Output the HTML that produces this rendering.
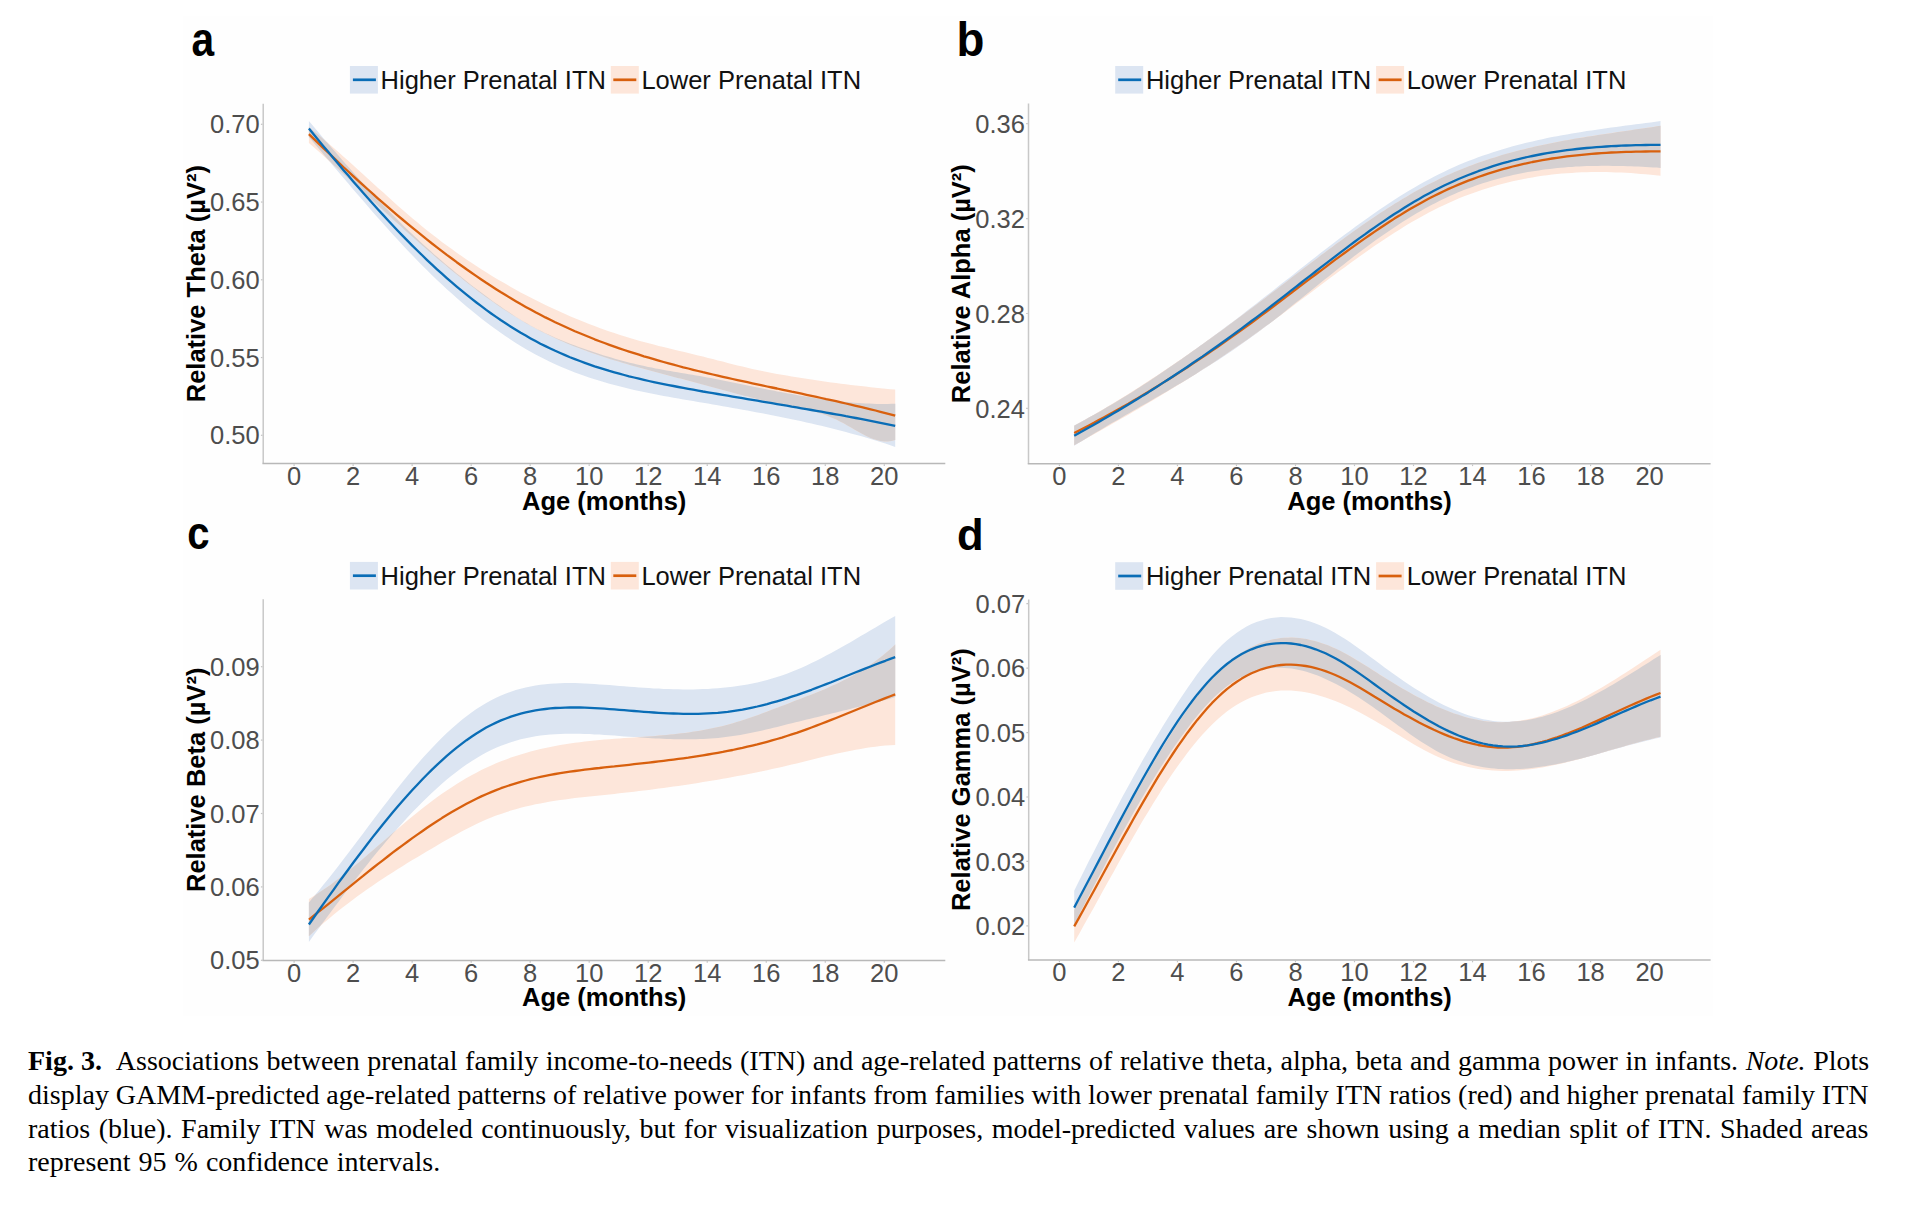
<!DOCTYPE html>
<html><head><meta charset="utf-8"><title>Fig. 3</title>
<style>
html,body{margin:0;padding:0;background:#fff;}
body{width:1918px;height:1220px;position:relative;overflow:hidden;}
svg{position:absolute;left:0;top:0;}
svg text{font-family:"Liberation Sans",sans-serif;}
.rb{fill:#dce5f2;}
.ro{fill:#fde6da;}
.rx{fill:#d5d0d1;}
.lb{fill:none;stroke:#0a6db6;stroke-width:2.3;stroke-linejoin:round;}
.lo{fill:none;stroke:#d8600e;stroke-width:2.3;stroke-linejoin:round;}
.ax{fill:none;stroke:#b8b8b8;stroke-width:1.5;}
.axv{fill:none;stroke:#c8c8c8;stroke-width:1.5;}
.tk{fill:none;stroke:#c4c4c4;stroke-width:1.2;}
.tl{font-size:25.5px;fill:#4d4d4d;}
.at{font-size:25.5px;font-weight:bold;fill:#000;}
.lg{font-size:25.5px;fill:#111;}
.pl{font-size:48px;font-weight:bold;fill:#000;}
.cap{position:absolute;left:28px;width:1840px;white-space:nowrap;font-family:"Liberation Serif",serif;font-size:28px;line-height:28px;color:#000;}
</style></head><body>
<svg width="1918" height="1220" viewBox="0 0 1918 1220">
<rect x="183" y="16" width="1530" height="1000" fill="#fefefe"/>
<path class="rb" d="M308.9,120.9 313.8,126.8 318.7,132.6 323.6,138.4 328.6,144.1 333.5,149.9 338.4,155.5 343.3,161.2 348.3,166.8 353.2,172.3 358.1,177.9 363.1,183.3 368.0,188.7 372.9,194.0 377.8,199.3 382.8,204.5 387.7,209.7 392.6,214.7 397.5,219.7 402.5,224.7 407.4,229.5 412.3,234.3 417.3,239.0 422.2,243.5 427.1,248.1 432.0,252.5 437.0,256.8 441.9,261.1 446.8,265.3 451.8,269.4 456.7,273.4 461.6,277.4 466.5,281.3 471.5,285.1 476.4,288.9 481.3,292.7 486.2,296.3 491.2,299.9 496.1,303.5 501.0,306.9 506.0,310.3 510.9,313.5 515.8,316.7 520.7,319.8 525.7,322.7 530.6,325.5 535.5,328.2 540.4,330.7 545.4,333.1 550.3,335.4 555.2,337.6 560.2,339.7 565.1,341.7 570.0,343.7 574.9,345.5 579.9,347.3 584.8,349.1 589.7,350.8 594.6,352.4 599.6,354.0 604.5,355.6 609.4,357.1 614.4,358.5 619.3,359.9 624.2,361.2 629.1,362.5 634.1,363.7 639.0,364.9 643.9,366.0 648.8,367.0 653.8,368.0 658.7,369.0 663.6,369.9 668.6,370.7 673.5,371.6 678.4,372.4 683.3,373.3 688.3,374.1 693.2,375.0 698.1,375.8 703.0,376.7 708.0,377.6 712.9,378.5 717.8,379.5 722.8,380.4 727.7,381.4 732.6,382.4 737.5,383.4 742.5,384.4 747.4,385.4 752.3,386.4 757.3,387.4 762.2,388.4 767.1,389.4 772.0,390.4 777.0,391.3 781.9,392.3 786.8,393.2 791.7,394.1 796.7,395.0 801.6,395.9 806.5,396.7 811.5,397.5 816.4,398.3 821.3,399.0 826.2,399.7 831.2,400.3 836.1,400.9 841.0,401.5 845.9,402.0 850.9,402.5 855.8,402.9 860.7,403.2 865.7,403.5 870.6,403.7 875.5,403.8 880.4,403.9 885.4,403.9 890.3,403.9 895.2,403.7 L895.2,446.9 890.3,445.2 885.4,443.6 880.4,442.0 875.5,440.5 870.6,439.0 865.7,437.6 860.7,436.1 855.8,434.7 850.9,433.4 845.9,432.1 841.0,430.8 836.1,429.5 831.2,428.2 826.2,427.0 821.3,425.8 816.4,424.7 811.5,423.5 806.5,422.4 801.6,421.3 796.7,420.3 791.7,419.2 786.8,418.2 781.9,417.2 777.0,416.2 772.0,415.2 767.1,414.3 762.2,413.3 757.3,412.4 752.3,411.5 747.4,410.6 742.5,409.7 737.5,408.8 732.6,407.9 727.7,407.0 722.8,406.2 717.8,405.3 712.9,404.5 708.0,403.6 703.0,402.8 698.1,401.9 693.2,401.1 688.3,400.3 683.3,399.4 678.4,398.6 673.5,397.7 668.6,396.8 663.6,395.9 658.7,395.0 653.8,394.0 648.8,393.0 643.9,392.0 639.0,391.0 634.1,389.9 629.1,388.7 624.2,387.6 619.3,386.3 614.4,385.0 609.4,383.7 604.5,382.3 599.6,380.8 594.6,379.3 589.7,377.7 584.8,376.0 579.9,374.3 574.9,372.4 570.0,370.5 565.1,368.5 560.2,366.4 555.2,364.2 550.3,361.9 545.4,359.5 540.4,357.0 535.5,354.4 530.6,351.7 525.7,348.9 520.7,346.0 515.8,342.9 510.9,339.7 506.0,336.5 501.0,333.1 496.1,329.6 491.2,326.0 486.2,322.3 481.3,318.5 476.4,314.6 471.5,310.6 466.5,306.5 461.6,302.3 456.7,298.0 451.8,293.6 446.8,289.2 441.9,284.6 437.0,279.9 432.0,275.2 427.1,270.3 422.2,265.4 417.3,260.4 412.3,255.3 407.4,250.2 402.5,244.9 397.5,239.6 392.6,234.2 387.7,228.8 382.8,223.3 377.8,217.8 372.9,212.2 368.0,206.5 363.1,200.8 358.1,195.1 353.2,189.4 348.3,183.6 343.3,177.8 338.4,172.0 333.5,166.2 328.6,160.3 323.6,154.5 318.7,148.6 313.8,142.8 308.9,137.0 Z"/>
<path class="ro" d="M308.9,127.1 313.8,131.1 318.7,135.1 323.6,139.3 328.6,143.5 333.5,147.7 338.4,152.1 343.3,156.4 348.3,160.8 353.2,165.3 358.1,169.7 363.1,174.2 368.0,178.7 372.9,183.2 377.8,187.7 382.8,192.1 387.7,196.6 392.6,201.0 397.5,205.4 402.5,209.7 407.4,214.0 412.3,218.2 417.3,222.3 422.2,226.4 427.1,230.4 432.0,234.3 437.0,238.1 441.9,241.9 446.8,245.5 451.8,249.1 456.7,252.7 461.6,256.1 466.5,259.5 471.5,262.8 476.4,266.0 481.3,269.2 486.2,272.3 491.2,275.4 496.1,278.4 501.0,281.3 506.0,284.1 510.9,286.9 515.8,289.7 520.7,292.4 525.7,295.0 530.6,297.5 535.5,300.1 540.4,302.5 545.4,304.9 550.3,307.3 555.2,309.6 560.2,311.8 565.1,314.0 570.0,316.2 574.9,318.3 579.9,320.3 584.8,322.3 589.7,324.2 594.6,326.1 599.6,327.9 604.5,329.7 609.4,331.4 614.4,333.1 619.3,334.7 624.2,336.3 629.1,337.8 634.1,339.2 639.0,340.7 643.9,342.0 648.8,343.3 653.8,344.6 658.7,345.9 663.6,347.1 668.6,348.3 673.5,349.5 678.4,350.7 683.3,351.8 688.3,353.0 693.2,354.2 698.1,355.4 703.0,356.6 708.0,357.9 712.9,359.1 717.8,360.4 722.8,361.6 727.7,362.9 732.6,364.2 737.5,365.4 742.5,366.6 747.4,367.8 752.3,368.9 757.3,370.0 762.2,371.0 767.1,372.0 772.0,373.0 777.0,373.9 781.9,374.7 786.8,375.6 791.7,376.4 796.7,377.3 801.6,378.1 806.5,378.8 811.5,379.6 816.4,380.3 821.3,381.0 826.2,381.7 831.2,382.4 836.1,383.1 841.0,383.7 845.9,384.3 850.9,384.9 855.8,385.5 860.7,386.1 865.7,386.6 870.6,387.2 875.5,387.7 880.4,388.2 885.4,388.7 890.3,389.2 895.2,389.6 L895.2,440.1 890.3,441.3 885.4,441.5 880.4,441.0 875.5,439.8 870.6,438.0 865.7,435.7 860.7,433.1 855.8,430.4 850.9,427.5 845.9,424.6 841.0,421.9 836.1,419.5 831.2,417.3 826.2,415.4 821.3,413.7 816.4,412.2 811.5,410.9 806.5,409.7 801.6,408.5 796.7,407.5 791.7,406.5 786.8,405.5 781.9,404.6 777.0,403.5 772.0,402.5 767.1,401.3 762.2,400.2 757.3,399.0 752.3,397.8 747.4,396.5 742.5,395.3 737.5,394.0 732.6,392.6 727.7,391.3 722.8,390.0 717.8,388.6 712.9,387.3 708.0,385.9 703.0,384.6 698.1,383.3 693.2,382.0 688.3,380.7 683.3,379.4 678.4,378.1 673.5,376.8 668.6,375.5 663.6,374.2 658.7,372.8 653.8,371.5 648.8,370.2 643.9,368.9 639.0,367.5 634.1,366.1 629.1,364.7 624.2,363.3 619.3,361.8 614.4,360.3 609.4,358.8 604.5,357.2 599.6,355.6 594.6,353.9 589.7,352.2 584.8,350.4 579.9,348.5 574.9,346.6 570.0,344.6 565.1,342.6 560.2,340.4 555.2,338.2 550.3,335.9 545.4,333.5 540.4,331.0 535.5,328.4 530.6,325.7 525.7,322.9 520.7,320.0 515.8,317.0 510.9,313.9 506.0,310.8 501.0,307.5 496.1,304.1 491.2,300.7 486.2,297.1 481.3,293.5 476.4,289.8 471.5,286.1 466.5,282.3 461.6,278.4 456.7,274.4 451.8,270.4 446.8,266.4 441.9,262.3 437.0,258.1 432.0,253.9 427.1,249.6 422.2,245.3 417.3,241.0 412.3,236.6 407.4,232.2 402.5,227.8 397.5,223.4 392.6,218.9 387.7,214.4 382.8,209.9 377.8,205.4 372.9,200.9 368.0,196.4 363.1,191.9 358.1,187.4 353.2,182.8 348.3,178.3 343.3,173.8 338.4,169.4 333.5,164.9 328.6,160.4 323.6,156.0 318.7,151.6 313.8,147.3 308.9,142.9 Z"/>
<path class="rx" d="M308.9,127.1 312.5,130.1 316.2,133.1 319.9,136.1 323.6,139.2 327.3,142.7 331.0,146.9 334.7,151.2 338.4,155.5 342.0,159.7 345.7,163.9 349.4,168.1 353.1,172.2 356.8,176.4 360.5,180.5 364.2,184.5 367.9,188.6 371.5,192.6 375.2,196.5 378.9,200.5 382.6,204.4 386.3,208.2 390.0,212.0 393.7,215.8 397.4,219.6 401.1,223.2 404.7,226.9 408.4,230.5 412.1,234.1 415.8,237.6 419.5,241.0 423.2,244.5 426.9,247.8 430.6,251.1 434.2,254.4 437.9,257.6 441.6,260.8 445.3,264.0 449.0,267.1 452.7,270.1 456.4,273.2 460.1,276.1 463.7,279.1 467.4,282.0 471.1,284.9 474.8,287.7 478.5,290.5 482.2,293.3 485.9,296.0 489.6,298.7 493.2,301.4 496.9,304.0 500.6,306.6 504.3,309.2 508.0,311.6 511.7,314.1 515.4,316.4 519.1,318.7 522.7,321.0 526.4,323.1 530.1,325.2 533.8,327.2 537.5,329.2 541.2,331.1 544.9,332.9 548.6,334.6 552.3,336.3 555.9,337.9 559.6,339.5 563.3,341.0 567.0,342.5 570.7,343.9 574.4,345.3 578.1,346.7 581.8,348.0 585.4,349.3 589.1,350.6 592.8,351.8 596.5,353.0 600.2,354.2 603.9,355.4 607.6,356.5 611.3,357.6 614.9,358.7 618.6,359.7 622.3,360.7 626.0,361.7 629.7,362.7 633.4,363.6 637.1,364.5 640.8,365.3 644.4,366.1 648.1,366.9 651.8,367.6 655.5,368.4 659.2,369.1 662.9,369.7 666.6,370.4 670.3,371.0 673.9,371.7 677.6,372.3 681.3,372.9 685.0,373.6 688.7,374.2 692.4,374.8 696.1,375.5 699.8,376.1 703.5,376.8 707.1,377.4 710.8,378.1 714.5,378.8 718.2,379.5 721.9,380.3 725.6,381.0 729.3,381.7 733.0,382.5 736.6,383.2 740.3,383.9 744.0,384.7 747.7,385.4 751.4,386.2 755.1,386.9 758.8,387.7 762.5,388.4 766.1,389.2 769.8,389.9 773.5,390.6 777.2,391.4 780.9,392.1 784.6,392.8 788.3,393.5 792.0,394.1 795.6,394.8 799.3,395.5 803.0,396.1 806.7,396.7 810.4,397.3 814.1,397.9 817.8,398.5 821.5,399.0 825.2,399.5 828.8,400.0 832.5,400.5 836.2,400.9 839.9,401.4 843.6,401.8 847.3,402.1 851.0,402.5 854.7,402.8 858.3,403.0 862.0,403.3 865.7,403.5 869.4,403.6 873.1,403.8 876.8,403.9 880.5,403.9 884.2,403.9 887.8,403.9 891.5,403.8 895.2,403.7 L895.2,440.1 891.5,441.0 887.8,441.4 884.2,441.4 880.5,441.0 876.8,440.1 873.1,438.9 869.4,437.4 865.7,435.7 862.0,433.8 858.3,431.8 854.7,429.7 851.0,427.5 847.3,425.4 843.6,423.3 839.9,421.4 836.2,419.6 832.5,417.9 828.8,416.4 825.2,415.1 821.5,413.8 817.8,412.7 814.1,411.6 810.4,410.6 806.7,409.7 803.0,408.9 799.3,408.1 795.6,407.3 792.0,406.6 788.3,405.8 784.6,405.1 780.9,404.3 777.2,403.6 773.5,402.8 769.8,402.0 766.1,401.1 762.5,400.3 758.8,399.4 755.1,398.5 751.4,397.5 747.7,396.6 744.0,395.7 740.3,394.7 736.6,393.7 733.0,392.7 729.3,391.7 725.6,390.7 721.9,389.7 718.2,388.7 714.5,387.7 710.8,386.7 707.1,385.7 703.5,384.7 699.8,383.7 696.1,382.7 692.4,381.8 688.7,380.8 685.0,379.8 681.3,378.8 677.6,377.9 673.9,376.9 670.3,375.9 666.6,374.9 662.9,374.0 659.2,373.0 655.5,372.0 651.8,371.0 648.1,370.0 644.4,369.0 640.8,368.0 637.1,367.0 633.4,365.9 629.7,364.9 626.0,363.8 622.3,362.7 618.6,361.6 614.9,360.5 611.3,359.4 607.6,358.2 603.9,357.0 600.2,355.8 596.5,354.5 592.8,353.3 589.1,352.0 585.4,350.6 581.8,349.2 578.1,347.8 574.4,346.4 570.7,344.9 567.0,343.4 563.3,341.8 559.6,340.2 555.9,338.5 552.3,336.8 548.6,335.1 544.9,333.3 541.2,331.4 537.5,329.5 533.8,327.5 530.1,325.5 526.4,323.4 522.7,321.2 519.1,319.0 515.4,316.8 511.7,314.5 508.0,312.1 504.3,309.7 500.6,307.2 496.9,304.7 493.2,302.1 489.6,299.5 485.9,296.9 482.2,294.2 478.5,291.4 474.8,288.6 471.1,285.8 467.4,283.0 463.7,280.1 460.1,277.1 456.4,274.2 452.7,271.2 449.0,268.2 445.3,265.1 441.6,262.0 437.9,258.9 434.2,255.8 430.6,252.6 426.9,249.4 423.2,246.2 419.5,243.0 415.8,239.7 412.1,236.4 408.4,233.2 404.7,229.9 401.1,226.5 397.4,223.2 393.7,219.9 390.0,216.5 386.3,213.2 382.6,209.8 378.9,206.4 375.2,203.0 371.5,199.7 367.9,196.3 364.2,192.9 360.5,189.5 356.8,186.1 353.1,182.8 349.4,179.4 345.7,176.0 342.0,172.7 338.4,169.3 334.7,166.0 331.0,162.6 327.3,158.8 323.6,154.5 319.9,150.1 316.2,145.7 312.5,141.3 308.9,137.0 Z"/>
<polyline class="lo" points="308.9,134.1 313.8,138.9 318.7,143.6 323.6,148.4 328.6,153.0 333.5,157.7 338.4,162.3 343.3,167.0 348.3,171.5 353.2,176.1 358.1,180.6 363.1,185.1 368.0,189.5 372.9,193.9 377.8,198.3 382.8,202.6 387.7,206.9 392.6,211.1 397.5,215.3 402.5,219.5 407.4,223.6 412.3,227.7 417.3,231.7 422.2,235.7 427.1,239.6 432.0,243.5 437.0,247.3 441.9,251.1 446.8,254.9 451.8,258.5 456.7,262.2 461.6,265.7 466.5,269.3 471.5,272.7 476.4,276.1 481.3,279.5 486.2,282.8 491.2,286.0 496.1,289.2 501.0,292.3 506.0,295.3 510.9,298.3 515.8,301.2 520.7,304.1 525.7,306.9 530.6,309.6 535.5,312.3 540.4,314.8 545.4,317.4 550.3,319.8 555.2,322.2 560.2,324.5 565.1,326.8 570.0,329.0 574.9,331.2 579.9,333.3 584.8,335.3 589.7,337.3 594.6,339.3 599.6,341.2 604.5,343.0 609.4,344.8 614.4,346.6 619.3,348.3 624.2,350.0 629.1,351.6 634.1,353.2 639.0,354.7 643.9,356.3 648.8,357.7 653.8,359.2 658.7,360.6 663.6,362.0 668.6,363.4 673.5,364.7 678.4,366.0 683.3,367.3 688.3,368.5 693.2,369.8 698.1,371.0 703.0,372.2 708.0,373.3 712.9,374.5 717.8,375.6 722.8,376.8 727.7,377.9 732.6,379.0 737.5,380.1 742.5,381.2 747.4,382.2 752.3,383.3 757.3,384.4 762.2,385.4 767.1,386.5 772.0,387.5 777.0,388.5 781.9,389.6 786.8,390.6 791.7,391.7 796.7,392.7 801.6,393.7 806.5,394.8 811.5,395.9 816.4,396.9 821.3,398.0 826.2,399.1 831.2,400.1 836.1,401.2 841.0,402.4 845.9,403.5 850.9,404.6 855.8,405.8 860.7,406.9 865.7,408.1 870.6,409.3 875.5,410.5 880.4,411.8 885.4,413.1 890.3,414.3 895.2,415.7"/>
<polyline class="lb" points="308.9,128.5 313.8,134.5 318.7,140.4 323.6,146.4 328.6,152.3 333.5,158.2 338.4,164.1 343.3,169.9 348.3,175.6 353.2,181.4 358.1,187.1 363.1,192.7 368.0,198.3 372.9,203.8 377.8,209.2 382.8,214.6 387.7,220.0 392.6,225.3 397.5,230.5 402.5,235.6 407.4,240.6 412.3,245.6 417.3,250.5 422.2,255.3 427.1,260.1 432.0,264.7 437.0,269.3 441.9,273.7 446.8,278.1 451.8,282.4 456.7,286.6 461.6,290.7 466.5,294.7 471.5,298.7 476.4,302.5 481.3,306.2 486.2,309.9 491.2,313.5 496.1,316.9 501.0,320.3 506.0,323.5 510.9,326.7 515.8,329.8 520.7,332.8 525.7,335.6 530.6,338.4 535.5,341.1 540.4,343.7 545.4,346.1 550.3,348.5 555.2,350.8 560.2,353.0 565.1,355.1 570.0,357.2 574.9,359.1 579.9,361.0 584.8,362.8 589.7,364.6 594.6,366.3 599.6,367.9 604.5,369.4 609.4,370.9 614.4,372.3 619.3,373.7 624.2,375.0 629.1,376.3 634.1,377.5 639.0,378.7 643.9,379.9 648.8,381.0 653.8,382.1 658.7,383.1 663.6,384.1 668.6,385.1 673.5,386.0 678.4,387.0 683.3,387.9 688.3,388.8 693.2,389.7 698.1,390.6 703.0,391.5 708.0,392.3 712.9,393.2 717.8,394.0 722.8,394.9 727.7,395.7 732.6,396.6 737.5,397.4 742.5,398.2 747.4,399.1 752.3,399.9 757.3,400.7 762.2,401.6 767.1,402.4 772.0,403.2 777.0,404.1 781.9,404.9 786.8,405.7 791.7,406.6 796.7,407.4 801.6,408.3 806.5,409.1 811.5,410.0 816.4,410.8 821.3,411.7 826.2,412.6 831.2,413.5 836.1,414.3 841.0,415.2 845.9,416.2 850.9,417.1 855.8,418.0 860.7,418.9 865.7,419.9 870.6,420.8 875.5,421.8 880.4,422.8 885.4,423.8 890.3,424.8 895.2,425.8"/>
<path class="axv" d="M263.2,103.8 V463.6"/>
<path class="ax" d="M262.45,463.6 H945.3"/>
<path class="tk" d="M294.10,464.30 v1.6"/>
<text class="tl" x="294.10" y="484.9" text-anchor="middle">0</text>
<path class="tk" d="M353.12,464.30 v1.6"/>
<text class="tl" x="353.12" y="484.9" text-anchor="middle">2</text>
<path class="tk" d="M412.14,464.30 v1.6"/>
<text class="tl" x="412.14" y="484.9" text-anchor="middle">4</text>
<path class="tk" d="M471.16,464.30 v1.6"/>
<text class="tl" x="471.16" y="484.9" text-anchor="middle">6</text>
<path class="tk" d="M530.18,464.30 v1.6"/>
<text class="tl" x="530.18" y="484.9" text-anchor="middle">8</text>
<path class="tk" d="M589.20,464.30 v1.6"/>
<text class="tl" x="589.20" y="484.9" text-anchor="middle">10</text>
<path class="tk" d="M648.22,464.30 v1.6"/>
<text class="tl" x="648.22" y="484.9" text-anchor="middle">12</text>
<path class="tk" d="M707.24,464.30 v1.6"/>
<text class="tl" x="707.24" y="484.9" text-anchor="middle">14</text>
<path class="tk" d="M766.26,464.30 v1.6"/>
<text class="tl" x="766.26" y="484.9" text-anchor="middle">16</text>
<path class="tk" d="M825.28,464.30 v1.6"/>
<text class="tl" x="825.28" y="484.9" text-anchor="middle">18</text>
<path class="tk" d="M884.30,464.30 v1.6"/>
<text class="tl" x="884.30" y="484.9" text-anchor="middle">20</text>
<path class="tk" d="M262.50,435.30 h-1.6"/>
<text class="tl" x="259.60" y="444.40" text-anchor="end">0.50</text>
<path class="tk" d="M262.50,357.55 h-1.6"/>
<text class="tl" x="259.60" y="366.65" text-anchor="end">0.55</text>
<path class="tk" d="M262.50,279.80 h-1.6"/>
<text class="tl" x="259.60" y="288.90" text-anchor="end">0.60</text>
<path class="tk" d="M262.50,202.05 h-1.6"/>
<text class="tl" x="259.60" y="211.15" text-anchor="end">0.65</text>
<path class="tk" d="M262.50,124.30 h-1.6"/>
<text class="tl" x="259.60" y="133.40" text-anchor="end">0.70</text>
<text class="at" x="604.2" y="509.5" text-anchor="middle">Age (months)</text>
<text class="at" transform="translate(204.5,283.7) rotate(-90)" text-anchor="middle">Relative Theta (µV²)</text>
<text class="pl" transform="translate(191.6,56.3) scale(0.84,1)" style="font-size:48.5px">a</text>
<rect x="349.9" y="66.0" width="28" height="27.6" fill="#dce5f2"/>
<path d="M352.9,79.8 h23" stroke="#0a6db6" stroke-width="2.7"/>
<text class="lg" x="380.6" y="88.9">Higher Prenatal ITN</text>
<rect x="610.8" y="66.0" width="28" height="27.6" fill="#fde6da"/>
<path d="M613.3,79.8 h23" stroke="#d8600e" stroke-width="2.7"/>
<text class="lg" x="641.4" y="88.9">Lower Prenatal ITN</text>
<path class="rb" d="M1074.2,425.6 1079.1,423.0 1084.0,420.3 1088.9,417.6 1093.9,414.9 1098.8,412.1 1103.7,409.2 1108.6,406.3 1113.6,403.4 1118.5,400.4 1123.4,397.4 1128.4,394.4 1133.3,391.3 1138.2,388.2 1143.1,385.0 1148.1,381.8 1153.0,378.5 1157.9,375.3 1162.8,372.0 1167.8,368.6 1172.7,365.2 1177.6,361.8 1182.6,358.4 1187.5,354.9 1192.4,351.4 1197.3,347.9 1202.3,344.3 1207.2,340.7 1212.1,337.1 1217.1,333.5 1222.0,329.8 1226.9,326.1 1231.8,322.4 1236.8,318.7 1241.7,314.9 1246.6,311.1 1251.5,307.3 1256.5,303.5 1261.4,299.6 1266.3,295.8 1271.3,291.9 1276.2,288.0 1281.1,284.1 1286.0,280.3 1291.0,276.4 1295.9,272.5 1300.8,268.6 1305.7,264.7 1310.7,260.8 1315.6,257.0 1320.5,253.1 1325.5,249.3 1330.4,245.5 1335.3,241.8 1340.2,238.0 1345.2,234.3 1350.1,230.7 1355.0,227.0 1359.9,223.5 1364.9,219.9 1369.8,216.4 1374.7,213.0 1379.7,209.6 1384.6,206.3 1389.5,203.0 1394.4,199.8 1399.4,196.6 1404.3,193.6 1409.2,190.6 1414.1,187.7 1419.1,184.8 1424.0,182.0 1428.9,179.4 1433.9,176.8 1438.8,174.3 1443.7,171.9 1448.6,169.5 1453.6,167.3 1458.5,165.1 1463.4,163.1 1468.3,161.1 1473.3,159.2 1478.2,157.3 1483.1,155.6 1488.1,153.9 1493.0,152.2 1497.9,150.7 1502.8,149.2 1507.8,147.7 1512.7,146.3 1517.6,145.0 1522.6,143.7 1527.5,142.5 1532.4,141.4 1537.3,140.2 1542.3,139.2 1547.2,138.1 1552.1,137.1 1557.0,136.2 1562.0,135.3 1566.9,134.4 1571.8,133.5 1576.8,132.7 1581.7,131.9 1586.6,131.1 1591.5,130.4 1596.5,129.7 1601.4,129.0 1606.3,128.3 1611.2,127.6 1616.2,126.9 1621.1,126.3 1626.0,125.6 1631.0,125.0 1635.9,124.3 1640.8,123.7 1645.7,123.0 1650.7,122.4 1655.6,121.7 1660.5,121.0 L1660.5,167.9 1655.6,167.6 1650.7,167.2 1645.7,167.0 1640.8,166.7 1635.9,166.5 1631.0,166.3 1626.0,166.1 1621.1,166.0 1616.2,165.9 1611.2,165.8 1606.3,165.8 1601.4,165.8 1596.5,165.9 1591.5,166.0 1586.6,166.1 1581.7,166.3 1576.8,166.6 1571.8,166.9 1566.9,167.2 1562.0,167.6 1557.0,168.1 1552.1,168.6 1547.2,169.2 1542.3,169.9 1537.3,170.6 1532.4,171.3 1527.5,172.2 1522.6,173.1 1517.6,174.1 1512.7,175.2 1507.8,176.3 1502.8,177.5 1497.9,178.8 1493.0,180.2 1488.1,181.7 1483.1,183.2 1478.2,184.8 1473.3,186.6 1468.3,188.4 1463.4,190.3 1458.5,192.3 1453.6,194.4 1448.6,196.6 1443.7,198.9 1438.8,201.3 1433.9,203.8 1428.9,206.4 1424.0,209.1 1419.1,211.9 1414.1,214.8 1409.2,217.8 1404.3,220.9 1399.4,224.0 1394.4,227.3 1389.5,230.6 1384.6,234.0 1379.7,237.4 1374.7,240.9 1369.8,244.5 1364.9,248.2 1359.9,251.9 1355.0,255.6 1350.1,259.4 1345.2,263.2 1340.2,267.1 1335.3,271.0 1330.4,274.9 1325.5,278.9 1320.5,282.9 1315.6,286.8 1310.7,290.8 1305.7,294.8 1300.8,298.8 1295.9,302.8 1291.0,306.7 1286.0,310.7 1281.1,314.6 1276.2,318.4 1271.3,322.3 1266.3,326.1 1261.4,329.8 1256.5,333.5 1251.5,337.1 1246.6,340.6 1241.7,344.1 1236.8,347.5 1231.8,350.9 1226.9,354.2 1222.0,357.5 1217.1,360.7 1212.1,363.8 1207.2,367.0 1202.3,370.1 1197.3,373.1 1192.4,376.1 1187.5,379.1 1182.6,382.1 1177.6,385.0 1172.7,387.9 1167.8,390.8 1162.8,393.7 1157.9,396.6 1153.0,399.4 1148.1,402.3 1143.1,405.1 1138.2,407.9 1133.3,410.8 1128.4,413.6 1123.4,416.5 1118.5,419.3 1113.6,422.2 1108.6,425.0 1103.7,427.9 1098.8,430.8 1093.9,433.8 1088.9,436.7 1084.0,439.7 1079.1,442.7 1074.2,445.8 Z"/>
<path class="ro" d="M1074.2,425.8 1079.1,423.1 1084.0,420.3 1088.9,417.5 1093.9,414.7 1098.8,411.8 1103.7,408.9 1108.6,406.0 1113.6,403.0 1118.5,400.0 1123.4,397.0 1128.4,393.9 1133.3,390.8 1138.2,387.7 1143.1,384.5 1148.1,381.3 1153.0,378.1 1157.9,374.9 1162.8,371.6 1167.8,368.3 1172.7,364.9 1177.6,361.6 1182.6,358.2 1187.5,354.8 1192.4,351.3 1197.3,347.9 1202.3,344.4 1207.2,340.8 1212.1,337.3 1217.1,333.8 1222.0,330.2 1226.9,326.6 1231.8,322.9 1236.8,319.3 1241.7,315.6 1246.6,312.0 1251.5,308.3 1256.5,304.5 1261.4,300.8 1266.3,297.0 1271.3,293.3 1276.2,289.5 1281.1,285.7 1286.0,282.0 1291.0,278.2 1295.9,274.4 1300.8,270.6 1305.7,266.9 1310.7,263.1 1315.6,259.4 1320.5,255.7 1325.5,252.0 1330.4,248.3 1335.3,244.6 1340.2,241.0 1345.2,237.4 1350.1,233.9 1355.0,230.4 1359.9,226.9 1364.9,223.5 1369.8,220.1 1374.7,216.8 1379.7,213.5 1384.6,210.3 1389.5,207.1 1394.4,204.0 1399.4,200.9 1404.3,198.0 1409.2,195.1 1414.1,192.2 1419.1,189.5 1424.0,186.8 1428.9,184.2 1433.9,181.7 1438.8,179.3 1443.7,176.9 1448.6,174.7 1453.6,172.5 1458.5,170.4 1463.4,168.4 1468.3,166.5 1473.3,164.6 1478.2,162.8 1483.1,161.1 1488.1,159.5 1493.0,157.9 1497.9,156.3 1502.8,154.9 1507.8,153.5 1512.7,152.1 1517.6,150.8 1522.6,149.5 1527.5,148.3 1532.4,147.2 1537.3,146.1 1542.3,145.0 1547.2,144.0 1552.1,143.0 1557.0,142.0 1562.0,141.1 1566.9,140.2 1571.8,139.3 1576.8,138.5 1581.7,137.6 1586.6,136.8 1591.5,136.1 1596.5,135.3 1601.4,134.5 1606.3,133.8 1611.2,133.1 1616.2,132.3 1621.1,131.6 1626.0,130.9 1631.0,130.2 1635.9,129.5 1640.8,128.8 1645.7,128.0 1650.7,127.3 1655.6,126.5 1660.5,125.8 L1660.5,175.8 1655.6,175.3 1650.7,174.8 1645.7,174.3 1640.8,173.9 1635.9,173.5 1631.0,173.1 1626.0,172.8 1621.1,172.6 1616.2,172.4 1611.2,172.2 1606.3,172.1 1601.4,172.0 1596.5,172.0 1591.5,172.1 1586.6,172.2 1581.7,172.3 1576.8,172.6 1571.8,172.9 1566.9,173.2 1562.0,173.6 1557.0,174.1 1552.1,174.6 1547.2,175.2 1542.3,175.8 1537.3,176.6 1532.4,177.4 1527.5,178.3 1522.6,179.2 1517.6,180.2 1512.7,181.3 1507.8,182.5 1502.8,183.7 1497.9,185.0 1493.0,186.5 1488.1,187.9 1483.1,189.5 1478.2,191.2 1473.3,192.9 1468.3,194.7 1463.4,196.6 1458.5,198.6 1453.6,200.7 1448.6,202.9 1443.7,205.2 1438.8,207.5 1433.9,210.0 1428.9,212.5 1424.0,215.2 1419.1,217.9 1414.1,220.7 1409.2,223.6 1404.3,226.6 1399.4,229.7 1394.4,232.8 1389.5,235.9 1384.6,239.2 1379.7,242.5 1374.7,245.8 1369.8,249.2 1364.9,252.7 1359.9,256.2 1355.0,259.7 1350.1,263.3 1345.2,266.9 1340.2,270.5 1335.3,274.2 1330.4,277.8 1325.5,281.5 1320.5,285.2 1315.6,288.9 1310.7,292.7 1305.7,296.4 1300.8,300.1 1295.9,303.8 1291.0,307.5 1286.0,311.2 1281.1,314.9 1276.2,318.6 1271.3,322.2 1266.3,325.8 1261.4,329.4 1256.5,333.0 1251.5,336.5 1246.6,340.0 1241.7,343.4 1236.8,346.8 1231.8,350.2 1226.9,353.5 1222.0,356.8 1217.1,360.1 1212.1,363.4 1207.2,366.6 1202.3,369.8 1197.3,372.9 1192.4,376.0 1187.5,379.2 1182.6,382.2 1177.6,385.3 1172.7,388.3 1167.8,391.3 1162.8,394.3 1157.9,397.3 1153.0,400.2 1148.1,403.1 1143.1,406.0 1138.2,408.9 1133.3,411.8 1128.4,414.7 1123.4,417.5 1118.5,420.3 1113.6,423.1 1108.6,425.9 1103.7,428.7 1098.8,431.5 1093.9,434.3 1088.9,437.0 1084.0,439.8 1079.1,442.5 1074.2,445.3 Z"/>
<path class="rx" d="M1074.2,425.8 1077.8,423.8 1081.5,421.7 1085.2,419.7 1088.9,417.6 1092.6,415.6 1096.3,413.5 1100.0,411.4 1103.7,409.3 1107.3,407.1 1111.0,404.9 1114.7,402.7 1118.4,400.5 1122.1,398.2 1125.8,396.0 1129.5,393.7 1133.2,391.4 1136.8,389.0 1140.5,386.7 1144.2,384.3 1147.9,381.9 1151.6,379.5 1155.3,377.0 1159.0,374.6 1162.7,372.1 1166.4,369.6 1170.0,367.1 1173.7,364.5 1177.4,362.0 1181.1,359.4 1184.8,356.8 1188.5,354.2 1192.2,351.6 1195.9,348.9 1199.5,346.3 1203.2,343.7 1206.9,341.0 1210.6,338.4 1214.3,335.7 1218.0,333.1 1221.7,330.4 1225.4,327.7 1229.0,325.0 1232.7,322.3 1236.4,319.6 1240.1,316.8 1243.8,314.1 1247.5,311.3 1251.2,308.5 1254.9,305.7 1258.5,303.0 1262.2,300.2 1265.9,297.4 1269.6,294.5 1273.3,291.7 1277.0,288.9 1280.7,286.1 1284.4,283.2 1288.0,280.4 1291.7,277.6 1295.4,274.8 1299.1,271.9 1302.8,269.1 1306.5,266.3 1310.2,263.5 1313.9,260.7 1317.6,257.9 1321.2,255.1 1324.9,252.4 1328.6,249.6 1332.3,246.9 1336.0,244.1 1339.7,241.4 1343.4,238.8 1347.1,236.1 1350.7,233.4 1354.4,230.8 1358.1,228.2 1361.8,225.6 1365.5,223.1 1369.2,220.5 1372.9,218.0 1376.6,215.5 1380.2,213.1 1383.9,210.7 1387.6,208.3 1391.3,206.0 1395.0,203.6 1398.7,201.4 1402.4,199.1 1406.1,196.9 1409.7,194.8 1413.4,192.6 1417.1,190.6 1420.8,188.5 1424.5,186.5 1428.2,184.6 1431.9,182.7 1435.6,180.9 1439.2,179.1 1442.9,177.3 1446.6,175.6 1450.3,173.9 1454.0,172.3 1457.7,170.8 1461.4,169.2 1465.1,167.8 1468.8,166.3 1472.4,164.9 1476.1,163.6 1479.8,162.3 1483.5,161.0 1487.2,159.7 1490.9,158.5 1494.6,157.4 1498.3,156.2 1501.9,155.1 1505.6,154.1 1509.3,153.0 1513.0,152.0 1516.7,151.0 1520.4,150.1 1524.1,149.2 1527.8,148.3 1531.4,147.4 1535.1,146.6 1538.8,145.7 1542.5,144.9 1546.2,144.2 1549.9,143.4 1553.6,142.7 1557.3,142.0 1560.9,141.3 1564.6,140.6 1568.3,139.9 1572.0,139.3 1575.7,138.6 1579.4,138.0 1583.1,137.4 1586.8,136.8 1590.5,136.2 1594.1,135.7 1597.8,135.1 1601.5,134.5 1605.2,134.0 1608.9,133.4 1612.6,132.9 1616.3,132.3 1620.0,131.8 1623.6,131.3 1627.3,130.7 1631.0,130.2 1634.7,129.6 1638.4,129.1 1642.1,128.6 1645.8,128.0 1649.5,127.5 1653.1,126.9 1656.8,126.3 1660.5,125.8 L1660.5,167.9 1656.8,167.6 1653.1,167.4 1649.5,167.2 1645.8,167.0 1642.1,166.8 1638.4,166.6 1634.7,166.4 1631.0,166.3 1627.3,166.2 1623.6,166.1 1620.0,166.0 1616.3,165.9 1612.6,165.9 1608.9,165.8 1605.2,165.8 1601.5,165.8 1597.8,165.9 1594.1,165.9 1590.5,166.0 1586.8,166.1 1583.1,166.3 1579.4,166.4 1575.7,166.6 1572.0,166.9 1568.3,167.1 1564.6,167.4 1560.9,167.7 1557.3,168.1 1553.6,168.5 1549.9,168.9 1546.2,169.3 1542.5,169.8 1538.8,170.4 1535.1,170.9 1531.4,171.5 1527.8,172.1 1524.1,172.8 1520.4,173.5 1516.7,174.3 1513.0,175.1 1509.3,175.9 1505.6,176.8 1501.9,177.8 1498.3,178.7 1494.6,179.7 1490.9,180.8 1487.2,181.9 1483.5,183.1 1479.8,184.3 1476.1,185.6 1472.4,186.9 1468.8,188.2 1465.1,189.6 1461.4,191.1 1457.7,192.6 1454.0,194.2 1450.3,195.8 1446.6,197.5 1442.9,199.3 1439.2,201.1 1435.6,202.9 1431.9,204.8 1428.2,206.8 1424.5,208.8 1420.8,210.9 1417.1,213.1 1413.4,215.2 1409.7,217.5 1406.1,219.8 1402.4,222.1 1398.7,224.5 1395.0,226.9 1391.3,229.4 1387.6,231.9 1383.9,234.4 1380.2,237.0 1376.6,239.6 1372.9,242.3 1369.2,245.0 1365.5,247.7 1361.8,250.5 1358.1,253.3 1354.4,256.1 1350.7,258.9 1347.1,261.8 1343.4,264.7 1339.7,267.6 1336.0,270.5 1332.3,273.4 1328.6,276.4 1324.9,279.3 1321.2,282.3 1317.6,285.3 1313.9,288.2 1310.2,291.2 1306.5,294.2 1302.8,297.2 1299.1,300.2 1295.4,303.1 1291.7,306.1 1288.0,309.1 1284.4,312.0 1280.7,314.9 1277.0,317.8 1273.3,320.7 1269.6,323.4 1265.9,326.1 1262.2,328.8 1258.5,331.5 1254.9,334.1 1251.2,336.8 1247.5,339.4 1243.8,341.9 1240.1,344.5 1236.4,347.1 1232.7,349.6 1229.0,352.1 1225.4,354.6 1221.7,357.0 1218.0,359.5 1214.3,361.9 1210.6,364.4 1206.9,366.8 1203.2,369.1 1199.5,371.5 1195.9,373.9 1192.2,376.2 1188.5,378.5 1184.8,380.7 1181.1,382.9 1177.4,385.1 1173.7,387.3 1170.0,389.5 1166.4,391.7 1162.7,393.8 1159.0,396.0 1155.3,398.1 1151.6,400.2 1147.9,402.4 1144.2,404.5 1140.5,406.6 1136.8,408.7 1133.2,410.8 1129.5,413.0 1125.8,415.1 1122.1,417.2 1118.4,419.4 1114.7,421.5 1111.0,423.6 1107.3,425.8 1103.7,428.0 1100.0,430.2 1096.3,432.3 1092.6,434.5 1088.9,436.8 1085.2,439.0 1081.5,441.2 1077.8,443.2 1074.2,445.3 Z"/>
<polyline class="lo" points="1074.2,432.9 1079.1,430.4 1084.0,427.9 1088.9,425.4 1093.9,422.8 1098.8,420.1 1103.7,417.5 1108.6,414.8 1113.6,412.1 1118.5,409.3 1123.4,406.5 1128.4,403.7 1133.3,400.8 1138.2,397.9 1143.1,395.0 1148.1,392.0 1153.0,389.0 1157.9,386.0 1162.8,382.9 1167.8,379.8 1172.7,376.7 1177.6,373.6 1182.6,370.4 1187.5,367.2 1192.4,363.9 1197.3,360.6 1202.3,357.3 1207.2,354.0 1212.1,350.6 1217.1,347.2 1222.0,343.8 1226.9,340.4 1231.8,336.9 1236.8,333.4 1241.7,329.9 1246.6,326.3 1251.5,322.7 1256.5,319.1 1261.4,315.4 1266.3,311.8 1271.3,308.1 1276.2,304.4 1281.1,300.6 1286.0,296.9 1291.0,293.2 1295.9,289.4 1300.8,285.7 1305.7,281.9 1310.7,278.2 1315.6,274.5 1320.5,270.8 1325.5,267.1 1330.4,263.4 1335.3,259.7 1340.2,256.1 1345.2,252.5 1350.1,248.9 1355.0,245.4 1359.9,241.9 1364.9,238.4 1369.8,235.0 1374.7,231.6 1379.7,228.3 1384.6,225.0 1389.5,221.8 1394.4,218.6 1399.4,215.6 1404.3,212.5 1409.2,209.6 1414.1,206.7 1419.1,203.9 1424.0,201.2 1428.9,198.6 1433.9,196.0 1438.8,193.6 1443.7,191.2 1448.6,188.9 1453.6,186.7 1458.5,184.6 1463.4,182.6 1468.3,180.6 1473.3,178.8 1478.2,177.0 1483.1,175.3 1488.1,173.6 1493.0,172.1 1497.9,170.6 1502.8,169.2 1507.8,167.8 1512.7,166.5 1517.6,165.3 1522.6,164.2 1527.5,163.1 1532.4,162.0 1537.3,161.1 1542.3,160.2 1547.2,159.3 1552.1,158.5 1557.0,157.8 1562.0,157.1 1566.9,156.4 1571.8,155.8 1576.8,155.3 1581.7,154.8 1586.6,154.3 1591.5,153.9 1596.5,153.5 1601.4,153.1 1606.3,152.8 1611.2,152.5 1616.2,152.3 1621.1,152.1 1626.0,151.9 1631.0,151.8 1635.9,151.6 1640.8,151.6 1645.7,151.5 1650.7,151.4 1655.6,151.4 1660.5,151.4"/>
<polyline class="lb" points="1074.2,435.7 1079.1,433.0 1084.0,430.3 1088.9,427.5 1093.9,424.7 1098.8,421.9 1103.7,419.1 1108.6,416.2 1113.6,413.3 1118.5,410.4 1123.4,407.5 1128.4,404.5 1133.3,401.5 1138.2,398.5 1143.1,395.4 1148.1,392.4 1153.0,389.2 1157.9,386.1 1162.8,382.9 1167.8,379.7 1172.7,376.5 1177.6,373.3 1182.6,370.0 1187.5,366.7 1192.4,363.3 1197.3,360.0 1202.3,356.6 1207.2,353.1 1212.1,349.7 1217.1,346.2 1222.0,342.7 1226.9,339.2 1231.8,335.6 1236.8,332.0 1241.7,328.4 1246.6,324.7 1251.5,321.0 1256.5,317.3 1261.4,313.6 1266.3,309.8 1271.3,306.0 1276.2,302.2 1281.1,298.4 1286.0,294.6 1291.0,290.7 1295.9,286.9 1300.8,283.0 1305.7,279.2 1310.7,275.3 1315.6,271.5 1320.5,267.7 1325.5,263.9 1330.4,260.1 1335.3,256.3 1340.2,252.6 1345.2,248.9 1350.1,245.2 1355.0,241.5 1359.9,237.9 1364.9,234.4 1369.8,230.8 1374.7,227.4 1379.7,223.9 1384.6,220.6 1389.5,217.3 1394.4,214.0 1399.4,210.9 1404.3,207.8 1409.2,204.7 1414.1,201.8 1419.1,198.9 1424.0,196.1 1428.9,193.4 1433.9,190.8 1438.8,188.2 1443.7,185.8 1448.6,183.5 1453.6,181.2 1458.5,179.0 1463.4,177.0 1468.3,175.0 1473.3,173.1 1478.2,171.2 1483.1,169.5 1488.1,167.8 1493.0,166.2 1497.9,164.7 1502.8,163.2 1507.8,161.9 1512.7,160.5 1517.6,159.3 1522.6,158.1 1527.5,157.0 1532.4,156.0 1537.3,155.0 1542.3,154.0 1547.2,153.2 1552.1,152.4 1557.0,151.6 1562.0,150.9 1566.9,150.2 1571.8,149.6 1576.8,149.0 1581.7,148.5 1586.6,148.0 1591.5,147.6 1596.5,147.2 1601.4,146.8 1606.3,146.5 1611.2,146.2 1616.2,146.0 1621.1,145.7 1626.0,145.5 1631.0,145.4 1635.9,145.2 1640.8,145.1 1645.7,145.0 1650.7,144.9 1655.6,144.9 1660.5,144.9"/>
<path class="axv" d="M1028.5,103.6 V463.8"/>
<path class="ax" d="M1027.75,463.8 H1710.6"/>
<path class="tk" d="M1059.40,464.50 v1.6"/>
<text class="tl" x="1059.40" y="485.1" text-anchor="middle">0</text>
<path class="tk" d="M1118.42,464.50 v1.6"/>
<text class="tl" x="1118.42" y="485.1" text-anchor="middle">2</text>
<path class="tk" d="M1177.44,464.50 v1.6"/>
<text class="tl" x="1177.44" y="485.1" text-anchor="middle">4</text>
<path class="tk" d="M1236.46,464.50 v1.6"/>
<text class="tl" x="1236.46" y="485.1" text-anchor="middle">6</text>
<path class="tk" d="M1295.48,464.50 v1.6"/>
<text class="tl" x="1295.48" y="485.1" text-anchor="middle">8</text>
<path class="tk" d="M1354.50,464.50 v1.6"/>
<text class="tl" x="1354.50" y="485.1" text-anchor="middle">10</text>
<path class="tk" d="M1413.52,464.50 v1.6"/>
<text class="tl" x="1413.52" y="485.1" text-anchor="middle">12</text>
<path class="tk" d="M1472.54,464.50 v1.6"/>
<text class="tl" x="1472.54" y="485.1" text-anchor="middle">14</text>
<path class="tk" d="M1531.56,464.50 v1.6"/>
<text class="tl" x="1531.56" y="485.1" text-anchor="middle">16</text>
<path class="tk" d="M1590.58,464.50 v1.6"/>
<text class="tl" x="1590.58" y="485.1" text-anchor="middle">18</text>
<path class="tk" d="M1649.60,464.50 v1.6"/>
<text class="tl" x="1649.60" y="485.1" text-anchor="middle">20</text>
<path class="tk" d="M1027.80,408.40 h-1.6"/>
<text class="tl" x="1024.90" y="417.50" text-anchor="end">0.24</text>
<path class="tk" d="M1027.80,313.50 h-1.6"/>
<text class="tl" x="1024.90" y="322.60" text-anchor="end">0.28</text>
<path class="tk" d="M1027.80,218.60 h-1.6"/>
<text class="tl" x="1024.90" y="227.70" text-anchor="end">0.32</text>
<path class="tk" d="M1027.80,123.70 h-1.6"/>
<text class="tl" x="1024.90" y="132.80" text-anchor="end">0.36</text>
<text class="at" x="1369.5" y="509.7" text-anchor="middle">Age (months)</text>
<text class="at" transform="translate(969.8,283.7) rotate(-90)" text-anchor="middle">Relative Alpha (µV²)</text>
<text class="pl" transform="translate(956.5,55.5) scale(0.966,1)" style="font-size:47.3px">b</text>
<rect x="1115.2" y="66.0" width="28" height="27.6" fill="#dce5f2"/>
<path d="M1118.2,79.8 h23" stroke="#0a6db6" stroke-width="2.7"/>
<text class="lg" x="1145.9" y="88.9">Higher Prenatal ITN</text>
<rect x="1376.1" y="66.0" width="28" height="27.6" fill="#fde6da"/>
<path d="M1378.6,79.8 h23" stroke="#d8600e" stroke-width="2.7"/>
<text class="lg" x="1406.7" y="88.9">Lower Prenatal ITN</text>
<path class="rb" d="M308.9,902.4 313.8,896.6 318.7,890.7 323.6,884.6 328.6,878.5 333.5,872.2 338.4,865.9 343.3,859.4 348.3,853.0 353.2,846.5 358.1,839.9 363.1,833.4 368.0,826.8 372.9,820.3 377.8,813.8 382.8,807.3 387.7,800.9 392.6,794.5 397.5,788.3 402.5,782.1 407.4,776.0 412.3,770.1 417.3,764.3 422.2,758.6 427.1,753.2 432.0,747.9 437.0,742.7 441.9,737.8 446.8,733.1 451.8,728.6 456.7,724.2 461.6,720.1 466.5,716.2 471.5,712.6 476.4,709.1 481.3,705.9 486.2,703.0 491.2,700.2 496.1,697.8 501.0,695.5 506.0,693.5 510.9,691.7 515.8,690.1 520.7,688.7 525.7,687.4 530.6,686.4 535.5,685.5 540.4,684.8 545.4,684.2 550.3,683.7 555.2,683.4 560.2,683.2 565.1,683.1 570.0,683.1 574.9,683.1 579.9,683.3 584.8,683.5 589.7,683.7 594.6,684.0 599.6,684.4 604.5,684.8 609.4,685.1 614.4,685.5 619.3,685.9 624.2,686.3 629.1,686.7 634.1,687.1 639.0,687.4 643.9,687.7 648.8,688.1 653.8,688.4 658.7,688.6 663.6,688.9 668.6,689.0 673.5,689.2 678.4,689.3 683.3,689.4 688.3,689.4 693.2,689.4 698.1,689.3 703.0,689.1 708.0,688.9 712.9,688.6 717.8,688.3 722.8,687.8 727.7,687.3 732.6,686.7 737.5,686.0 742.5,685.3 747.4,684.4 752.3,683.4 757.3,682.4 762.2,681.2 767.1,679.9 772.0,678.5 777.0,677.0 781.9,675.4 786.8,673.7 791.7,671.8 796.7,669.8 801.6,667.7 806.5,665.5 811.5,663.1 816.4,660.7 821.3,658.2 826.2,655.6 831.2,653.0 836.1,650.3 841.0,647.5 845.9,644.7 850.9,641.9 855.8,639.0 860.7,636.1 865.7,633.2 870.6,630.3 875.5,627.4 880.4,624.5 885.4,621.6 890.3,618.7 895.2,615.9 L895.2,697.1 890.3,698.5 885.4,699.8 880.4,701.2 875.5,702.5 870.6,703.8 865.7,705.0 860.7,706.3 855.8,707.5 850.9,708.8 845.9,710.0 841.0,711.2 836.1,712.4 831.2,713.6 826.2,714.8 821.3,716.0 816.4,717.2 811.5,718.4 806.5,719.6 801.6,720.9 796.7,722.1 791.7,723.3 786.8,724.5 781.9,725.7 777.0,726.9 772.0,728.1 767.1,729.3 762.2,730.5 757.3,731.6 752.3,732.6 747.4,733.6 742.5,734.5 737.5,735.4 732.6,736.2 727.7,736.9 722.8,737.5 717.8,738.0 712.9,738.4 708.0,738.7 703.0,739.0 698.1,739.1 693.2,739.3 688.3,739.3 683.3,739.3 678.4,739.3 673.5,739.2 668.6,739.0 663.6,738.8 658.7,738.6 653.8,738.3 648.8,738.0 643.9,737.7 639.0,737.4 634.1,737.1 629.1,736.7 624.2,736.4 619.3,736.0 614.4,735.6 609.4,735.3 604.5,735.0 599.6,734.6 594.6,734.4 589.7,734.1 584.8,733.9 579.9,733.8 574.9,733.7 570.0,733.7 565.1,733.7 560.2,733.9 555.2,734.2 550.3,734.5 545.4,735.0 540.4,735.6 535.5,736.3 530.6,737.2 525.7,738.2 520.7,739.3 515.8,740.7 510.9,742.2 506.0,743.9 501.0,745.7 496.1,747.8 491.2,750.1 486.2,752.6 481.3,755.2 476.4,758.2 471.5,761.3 466.5,764.6 461.6,768.0 456.7,771.7 451.8,775.6 446.8,779.6 441.9,783.8 437.0,788.2 432.0,792.7 427.1,797.4 422.2,802.2 417.3,807.2 412.3,812.3 407.4,817.5 402.5,822.9 397.5,828.4 392.6,834.0 387.7,839.7 382.8,845.5 377.8,851.4 372.9,857.4 368.0,863.5 363.1,869.7 358.1,876.0 353.2,882.3 348.3,888.8 343.3,895.2 338.4,901.8 333.5,908.4 328.6,915.0 323.6,921.7 318.7,928.4 313.8,935.1 308.9,941.9 Z"/>
<path class="ro" d="M308.9,899.1 313.8,896.1 318.7,892.9 323.6,889.6 328.6,886.1 333.5,882.5 338.4,878.8 343.3,874.9 348.3,871.0 353.2,867.0 358.1,862.9 363.1,858.7 368.0,854.5 372.9,850.3 377.8,846.0 382.8,841.7 387.7,837.5 392.6,833.2 397.5,828.9 402.5,824.7 407.4,820.6 412.3,816.5 417.3,812.5 422.2,808.5 427.1,804.7 432.0,800.9 437.0,797.3 441.9,793.8 446.8,790.4 451.8,787.2 456.7,784.0 461.6,781.0 466.5,778.1 471.5,775.3 476.4,772.7 481.3,770.1 486.2,767.7 491.2,765.5 496.1,763.3 501.0,761.3 506.0,759.4 510.9,757.6 515.8,755.9 520.7,754.4 525.7,752.9 530.6,751.5 535.5,750.2 540.4,749.0 545.4,747.9 550.3,746.9 555.2,746.0 560.2,745.1 565.1,744.3 570.0,743.5 574.9,742.8 579.9,742.2 584.8,741.6 589.7,741.0 594.6,740.5 599.6,740.1 604.5,739.6 609.4,739.2 614.4,738.8 619.3,738.5 624.2,738.1 629.1,737.8 634.1,737.4 639.0,737.1 643.9,736.8 648.8,736.4 653.8,736.0 658.7,735.6 663.6,735.2 668.6,734.7 673.5,734.2 678.4,733.7 683.3,733.1 688.3,732.4 693.2,731.7 698.1,730.9 703.0,730.1 708.0,729.2 712.9,728.2 717.8,727.1 722.8,726.0 727.7,724.7 732.6,723.3 737.5,721.9 742.5,720.3 747.4,718.7 752.3,717.0 757.3,715.2 762.2,713.4 767.1,711.6 772.0,709.7 777.0,707.8 781.9,705.9 786.8,704.0 791.7,702.1 796.7,700.2 801.6,698.3 806.5,696.4 811.5,694.5 816.4,692.5 821.3,690.5 826.2,688.4 831.2,686.2 836.1,684.0 841.0,681.6 845.9,679.2 850.9,676.5 855.8,673.8 860.7,670.9 865.7,667.8 870.6,664.5 875.5,661.0 880.4,657.3 885.4,653.3 890.3,649.1 895.2,644.5 L895.2,745.0 890.3,745.3 885.4,745.6 880.4,746.1 875.5,746.7 870.6,747.3 865.7,748.0 860.7,748.9 855.8,749.7 850.9,750.7 845.9,751.7 841.0,752.7 836.1,753.8 831.2,755.0 826.2,756.1 821.3,757.3 816.4,758.5 811.5,759.7 806.5,760.9 801.6,762.2 796.7,763.4 791.7,764.6 786.8,765.7 781.9,766.9 777.0,768.0 772.0,769.1 767.1,770.2 762.2,771.2 757.3,772.2 752.3,773.2 747.4,774.2 742.5,775.2 737.5,776.1 732.6,777.0 727.7,777.9 722.8,778.8 717.8,779.7 712.9,780.5 708.0,781.3 703.0,782.1 698.1,782.9 693.2,783.7 688.3,784.4 683.3,785.2 678.4,785.9 673.5,786.6 668.6,787.3 663.6,788.0 658.7,788.6 653.8,789.2 648.8,789.9 643.9,790.5 639.0,791.1 634.1,791.7 629.1,792.2 624.2,792.8 619.3,793.3 614.4,793.9 609.4,794.4 604.5,794.9 599.6,795.4 594.6,795.9 589.7,796.5 584.8,797.0 579.9,797.5 574.9,798.1 570.0,798.7 565.1,799.4 560.2,800.0 555.2,800.8 550.3,801.6 545.4,802.4 540.4,803.4 535.5,804.3 530.6,805.4 525.7,806.6 520.7,807.8 515.8,809.2 510.9,810.6 506.0,812.2 501.0,813.9 496.1,815.6 491.2,817.6 486.2,819.6 481.3,821.8 476.4,824.1 471.5,826.5 466.5,829.0 461.6,831.6 456.7,834.2 451.8,837.0 446.8,839.8 441.9,842.6 437.0,845.5 432.0,848.4 427.1,851.3 422.2,854.2 417.3,857.2 412.3,860.1 407.4,863.1 402.5,866.2 397.5,869.3 392.6,872.4 387.7,875.6 382.8,878.8 377.8,882.1 372.9,885.4 368.0,888.8 363.1,892.3 358.1,895.8 353.2,899.4 348.3,903.2 343.3,906.9 338.4,910.8 333.5,914.8 328.6,918.9 323.6,923.1 318.7,927.4 313.8,931.8 308.9,936.3 Z"/>
<path class="rx" d="M308.9,902.4 312.5,898.1 316.2,894.5 319.9,892.1 323.6,889.6 327.3,887.0 331.0,884.4 334.7,881.6 338.4,878.8 342.0,876.0 345.7,873.0 349.4,870.1 353.1,867.1 356.8,864.0 360.5,860.9 364.2,857.8 367.9,854.6 371.5,851.5 375.2,848.3 378.9,845.1 382.6,841.9 386.3,838.7 390.0,835.5 393.7,832.3 397.4,829.1 401.1,826.0 404.7,822.8 408.4,819.7 412.1,816.7 415.8,813.7 419.5,810.7 423.2,807.7 426.9,804.9 430.6,802.1 434.2,799.3 437.9,796.6 441.6,794.0 445.3,791.5 449.0,789.0 452.7,786.6 456.4,784.2 460.1,782.0 463.7,779.7 467.4,777.6 471.1,775.5 474.8,773.5 478.5,771.6 482.2,769.7 485.9,767.9 489.6,766.2 493.2,764.6 496.9,763.0 500.6,761.5 504.3,760.0 508.0,758.7 511.7,757.3 515.4,756.1 519.1,754.9 522.7,753.8 526.4,752.7 530.1,751.6 533.8,750.7 537.5,749.8 541.2,748.9 544.9,748.1 548.6,747.3 552.3,746.5 555.9,745.8 559.6,745.2 563.3,744.6 567.0,744.0 570.7,743.4 574.4,742.9 578.1,742.4 581.8,742.0 585.4,741.5 589.1,741.1 592.8,740.7 596.5,740.4 600.2,740.0 603.9,739.7 607.6,739.4 611.3,739.1 614.9,738.8 618.6,738.5 622.3,738.3 626.0,738.0 629.7,737.7 633.4,737.5 637.1,737.2 640.8,737.0 644.4,736.7 648.1,736.4 651.8,736.2 655.5,735.9 659.2,735.6 662.9,735.2 666.6,734.9 670.3,734.5 673.9,734.2 677.6,733.8 681.3,733.3 685.0,732.9 688.7,732.4 692.4,731.8 696.1,731.3 699.8,730.7 703.5,730.0 707.1,729.3 710.8,728.6 714.5,727.8 718.2,727.0 721.9,726.2 725.6,725.2 729.3,724.2 733.0,723.2 736.6,722.1 740.3,721.0 744.0,719.8 747.7,718.6 751.4,717.3 755.1,716.0 758.8,714.7 762.5,713.3 766.1,711.9 769.8,710.5 773.5,709.1 777.2,707.7 780.9,706.3 784.6,704.9 788.3,703.4 792.0,702.0 795.6,700.6 799.3,699.2 803.0,697.8 806.7,696.3 810.4,694.9 814.1,693.4 817.8,691.9 821.5,690.4 825.2,688.9 828.8,687.3 832.5,685.6 836.2,683.9 839.9,682.2 843.6,680.3 847.3,678.4 851.0,676.5 854.7,674.4 858.3,672.3 862.0,670.1 865.7,667.8 869.4,665.3 873.1,662.7 876.8,660.1 880.5,657.3 884.2,654.3 887.8,651.2 891.5,647.9 895.2,644.5 L895.2,697.1 891.5,698.2 887.8,699.2 884.2,700.2 880.5,701.2 876.8,702.1 873.1,703.1 869.4,704.1 865.7,705.0 862.0,705.9 858.3,706.9 854.7,707.8 851.0,708.7 847.3,709.7 843.6,710.6 839.9,711.5 836.2,712.4 832.5,713.3 828.8,714.2 825.2,715.1 821.5,716.0 817.8,716.9 814.1,717.8 810.4,718.7 806.7,719.6 803.0,720.5 799.3,721.4 795.6,722.3 792.0,723.2 788.3,724.1 784.6,725.1 780.9,726.0 777.2,726.9 773.5,727.8 769.8,728.7 766.1,729.5 762.5,730.4 758.8,731.2 755.1,732.0 751.4,732.8 747.7,733.6 744.0,734.3 740.3,734.9 736.6,735.5 733.0,736.1 729.3,736.6 725.6,737.1 721.9,737.5 718.2,737.9 714.5,738.2 710.8,738.5 707.1,738.7 703.5,738.9 699.8,739.1 696.1,739.2 692.4,739.3 688.7,739.3 685.0,739.3 681.3,739.3 677.6,739.3 673.9,739.2 670.3,739.1 666.6,738.9 662.9,738.8 659.2,738.6 655.5,738.4 651.8,738.2 648.1,738.0 644.4,737.8 640.8,737.5 637.1,737.3 633.4,737.5 629.7,737.7 626.0,738.0 622.3,738.3 618.6,738.5 614.9,738.8 611.3,739.1 607.6,739.4 603.9,739.7 600.2,740.0 596.5,740.4 592.8,740.7 589.1,741.1 585.4,741.5 581.8,742.0 578.1,742.4 574.4,742.9 570.7,743.4 567.0,744.0 563.3,744.6 559.6,745.2 555.9,745.8 552.3,746.5 548.6,747.3 544.9,748.1 541.2,748.9 537.5,749.8 533.8,750.7 530.1,751.6 526.4,752.7 522.7,753.8 519.1,754.9 515.4,756.1 511.7,757.3 508.0,758.7 504.3,760.0 500.6,761.5 496.9,763.0 493.2,764.6 489.6,766.2 485.9,767.9 482.2,769.7 478.5,771.6 474.8,773.5 471.1,775.5 467.4,777.6 463.7,779.7 460.1,782.0 456.4,784.2 452.7,786.6 449.0,789.0 445.3,791.5 441.6,794.0 437.9,796.6 434.2,799.3 430.6,802.1 426.9,804.9 423.2,807.7 419.5,810.7 415.8,813.7 412.1,816.7 408.4,819.7 404.7,822.8 401.1,826.0 397.4,829.1 393.7,832.8 390.0,837.0 386.3,841.3 382.6,845.7 378.9,850.1 375.2,854.6 371.5,859.1 367.9,863.7 364.2,868.3 360.5,873.0 356.8,877.7 353.1,882.5 349.4,887.3 345.7,892.1 342.0,897.0 338.4,901.9 334.7,906.8 331.0,911.7 327.3,916.7 323.6,921.7 319.9,926.3 316.2,929.6 312.5,932.9 308.9,936.3 Z"/>
<polyline class="lo" points="308.9,919.7 313.8,915.7 318.7,911.7 323.6,907.8 328.6,903.8 333.5,899.8 338.4,895.8 343.3,891.8 348.3,887.8 353.2,883.8 358.1,879.8 363.1,875.9 368.0,871.9 372.9,868.0 377.8,864.1 382.8,860.3 387.7,856.5 392.6,852.7 397.5,849.0 402.5,845.3 407.4,841.7 412.3,838.1 417.3,834.6 422.2,831.2 427.1,827.8 432.0,824.5 437.0,821.3 441.9,818.1 446.8,815.1 451.8,812.1 456.7,809.2 461.6,806.5 466.5,803.8 471.5,801.2 476.4,798.8 481.3,796.4 486.2,794.2 491.2,792.1 496.1,790.1 501.0,788.2 506.0,786.5 510.9,784.8 515.8,783.3 520.7,781.8 525.7,780.5 530.6,779.2 535.5,778.0 540.4,776.9 545.4,775.9 550.3,774.9 555.2,774.0 560.2,773.2 565.1,772.4 570.0,771.7 574.9,771.0 579.9,770.3 584.8,769.7 589.7,769.1 594.6,768.5 599.6,768.0 604.5,767.4 609.4,766.9 614.4,766.4 619.3,765.8 624.2,765.3 629.1,764.8 634.1,764.2 639.0,763.7 643.9,763.1 648.8,762.6 653.8,762.0 658.7,761.4 663.6,760.8 668.6,760.2 673.5,759.6 678.4,758.9 683.3,758.3 688.3,757.6 693.2,756.8 698.1,756.1 703.0,755.3 708.0,754.5 712.9,753.7 717.8,752.8 722.8,751.9 727.7,750.9 732.6,750.0 737.5,748.9 742.5,747.9 747.4,746.7 752.3,745.6 757.3,744.4 762.2,743.1 767.1,741.8 772.0,740.4 777.0,739.0 781.9,737.6 786.8,736.0 791.7,734.4 796.7,732.8 801.6,731.1 806.5,729.3 811.5,727.5 816.4,725.7 821.3,723.8 826.2,721.9 831.2,719.9 836.1,718.0 841.0,716.0 845.9,714.0 850.9,712.0 855.8,710.0 860.7,708.0 865.7,706.0 870.6,704.0 875.5,702.0 880.4,700.1 885.4,698.1 890.3,696.2 895.2,694.4"/>
<polyline class="lb" points="308.9,924.5 313.8,917.5 318.7,910.5 323.6,903.6 328.6,896.7 333.5,889.8 338.4,882.9 343.3,876.2 348.3,869.5 353.2,862.8 358.1,856.2 363.1,849.7 368.0,843.3 372.9,836.9 377.8,830.7 382.8,824.5 387.7,818.5 392.6,812.5 397.5,806.7 402.5,801.0 407.4,795.4 412.3,790.0 417.3,784.7 422.2,779.5 427.1,774.5 432.0,769.6 437.0,764.9 441.9,760.3 446.8,755.9 451.8,751.7 456.7,747.7 461.6,743.9 466.5,740.2 471.5,736.8 476.4,733.5 481.3,730.5 486.2,727.6 491.2,725.0 496.1,722.6 501.0,720.4 506.0,718.5 510.9,716.7 515.8,715.1 520.7,713.7 525.7,712.4 530.6,711.3 535.5,710.4 540.4,709.6 545.4,709.0 550.3,708.4 555.2,708.0 560.2,707.8 565.1,707.6 570.0,707.5 574.9,707.5 579.9,707.5 584.8,707.7 589.7,707.9 594.6,708.1 599.6,708.4 604.5,708.7 609.4,709.1 614.4,709.4 619.3,709.8 624.2,710.2 629.1,710.6 634.1,711.0 639.0,711.4 643.9,711.8 648.8,712.1 653.8,712.5 658.7,712.8 663.6,713.1 668.6,713.3 673.5,713.5 678.4,713.7 683.3,713.8 688.3,713.8 693.2,713.8 698.1,713.8 703.0,713.6 708.0,713.4 712.9,713.1 717.8,712.8 722.8,712.3 727.7,711.8 732.6,711.1 737.5,710.4 742.5,709.6 747.4,708.6 752.3,707.6 757.3,706.5 762.2,705.3 767.1,704.1 772.0,702.7 777.0,701.3 781.9,699.9 786.8,698.3 791.7,696.7 796.7,695.1 801.6,693.3 806.5,691.6 811.5,689.8 816.4,687.9 821.3,686.0 826.2,684.1 831.2,682.2 836.1,680.2 841.0,678.3 845.9,676.3 850.9,674.3 855.8,672.3 860.7,670.4 865.7,668.4 870.6,666.5 875.5,664.5 880.4,662.6 885.4,660.8 890.3,658.9 895.2,657.2"/>
<path class="axv" d="M263.2,599.2 V960.4"/>
<path class="ax" d="M262.45,960.4 H945.3"/>
<path class="tk" d="M294.10,961.10 v1.6"/>
<text class="tl" x="294.10" y="981.7" text-anchor="middle">0</text>
<path class="tk" d="M353.12,961.10 v1.6"/>
<text class="tl" x="353.12" y="981.7" text-anchor="middle">2</text>
<path class="tk" d="M412.14,961.10 v1.6"/>
<text class="tl" x="412.14" y="981.7" text-anchor="middle">4</text>
<path class="tk" d="M471.16,961.10 v1.6"/>
<text class="tl" x="471.16" y="981.7" text-anchor="middle">6</text>
<path class="tk" d="M530.18,961.10 v1.6"/>
<text class="tl" x="530.18" y="981.7" text-anchor="middle">8</text>
<path class="tk" d="M589.20,961.10 v1.6"/>
<text class="tl" x="589.20" y="981.7" text-anchor="middle">10</text>
<path class="tk" d="M648.22,961.10 v1.6"/>
<text class="tl" x="648.22" y="981.7" text-anchor="middle">12</text>
<path class="tk" d="M707.24,961.10 v1.6"/>
<text class="tl" x="707.24" y="981.7" text-anchor="middle">14</text>
<path class="tk" d="M766.26,961.10 v1.6"/>
<text class="tl" x="766.26" y="981.7" text-anchor="middle">16</text>
<path class="tk" d="M825.28,961.10 v1.6"/>
<text class="tl" x="825.28" y="981.7" text-anchor="middle">18</text>
<path class="tk" d="M884.30,961.10 v1.6"/>
<text class="tl" x="884.30" y="981.7" text-anchor="middle">20</text>
<path class="tk" d="M262.50,960.30 h-1.6"/>
<text class="tl" x="259.60" y="969.40" text-anchor="end">0.05</text>
<path class="tk" d="M262.50,886.90 h-1.6"/>
<text class="tl" x="259.60" y="896.00" text-anchor="end">0.06</text>
<path class="tk" d="M262.50,813.50 h-1.6"/>
<text class="tl" x="259.60" y="822.60" text-anchor="end">0.07</text>
<path class="tk" d="M262.50,740.10 h-1.6"/>
<text class="tl" x="259.60" y="749.20" text-anchor="end">0.08</text>
<path class="tk" d="M262.50,666.70 h-1.6"/>
<text class="tl" x="259.60" y="675.80" text-anchor="end">0.09</text>
<text class="at" x="604.2" y="1006.3" text-anchor="middle">Age (months)</text>
<text class="at" transform="translate(204.5,779.8) rotate(-90)" text-anchor="middle">Relative Beta (µV²)</text>
<text class="pl" transform="translate(187.3,549.35) scale(0.88,1)" style="font-size:45.5px">c</text>
<rect x="349.9" y="561.9" width="28" height="27.6" fill="#dce5f2"/>
<path d="M352.9,575.7 h23" stroke="#0a6db6" stroke-width="2.7"/>
<text class="lg" x="380.6" y="584.8">Higher Prenatal ITN</text>
<rect x="610.8" y="561.9" width="28" height="27.6" fill="#fde6da"/>
<path d="M613.3,575.7 h23" stroke="#d8600e" stroke-width="2.7"/>
<text class="lg" x="641.4" y="584.8">Lower Prenatal ITN</text>
<path class="rb" d="M1074.2,890.7 1079.1,880.8 1084.0,870.9 1088.9,861.1 1093.9,851.4 1098.8,841.8 1103.7,832.2 1108.6,822.8 1113.6,813.4 1118.5,804.2 1123.4,795.0 1128.4,786.0 1133.3,777.1 1138.2,768.3 1143.1,759.6 1148.1,751.0 1153.0,742.6 1157.9,734.4 1162.8,726.2 1167.8,718.3 1172.7,710.5 1177.6,702.8 1182.6,695.3 1187.5,688.0 1192.4,680.9 1197.3,674.1 1202.3,667.6 1207.2,661.4 1212.1,655.5 1217.1,650.1 1222.0,645.1 1226.9,640.5 1231.8,636.4 1236.8,632.7 1241.7,629.5 1246.6,626.6 1251.5,624.1 1256.5,622.1 1261.4,620.4 1266.3,619.0 1271.3,618.1 1276.2,617.4 1281.1,617.1 1286.0,617.2 1291.0,617.5 1295.9,618.2 1300.8,619.1 1305.7,620.3 1310.7,621.8 1315.6,623.6 1320.5,625.6 1325.5,627.8 1330.4,630.3 1335.3,633.0 1340.2,635.9 1345.2,639.0 1350.1,642.3 1355.0,645.7 1359.9,649.2 1364.9,652.8 1369.8,656.5 1374.7,660.1 1379.7,663.8 1384.6,667.4 1389.5,671.0 1394.4,674.6 1399.4,678.0 1404.3,681.4 1409.2,684.7 1414.1,688.0 1419.1,691.1 1424.0,694.1 1428.9,697.0 1433.9,699.8 1438.8,702.5 1443.7,705.0 1448.6,707.3 1453.6,709.5 1458.5,711.6 1463.4,713.5 1468.3,715.2 1473.3,716.7 1478.2,718.0 1483.1,719.2 1488.1,720.1 1493.0,720.9 1497.9,721.4 1502.8,721.7 1507.8,721.7 1512.7,721.6 1517.6,721.3 1522.6,720.7 1527.5,720.0 1532.4,719.1 1537.3,718.0 1542.3,716.7 1547.2,715.3 1552.1,713.7 1557.0,712.0 1562.0,710.1 1566.9,708.1 1571.8,706.0 1576.8,703.8 1581.7,701.4 1586.6,699.0 1591.5,696.5 1596.5,693.8 1601.4,691.1 1606.3,688.3 1611.2,685.5 1616.2,682.6 1621.1,679.6 1626.0,676.6 1631.0,673.5 1635.9,670.5 1640.8,667.4 1645.7,664.3 1650.7,661.1 1655.6,658.0 1660.5,654.9 L1660.5,737.6 1655.6,738.6 1650.7,739.8 1645.7,741.0 1640.8,742.2 1635.9,743.5 1631.0,744.8 1626.0,746.1 1621.1,747.5 1616.2,748.8 1611.2,750.2 1606.3,751.6 1601.4,753.0 1596.5,754.3 1591.5,755.7 1586.6,757.0 1581.7,758.3 1576.8,759.5 1571.8,760.7 1566.9,761.9 1562.0,763.0 1557.0,764.0 1552.1,764.9 1547.2,765.8 1542.3,766.6 1537.3,767.3 1532.4,767.9 1527.5,768.4 1522.6,768.8 1517.6,769.1 1512.7,769.2 1507.8,769.3 1502.8,769.1 1497.9,768.9 1493.0,768.5 1488.1,767.9 1483.1,767.2 1478.2,766.3 1473.3,765.2 1468.3,763.9 1463.4,762.5 1458.5,760.9 1453.6,759.0 1448.6,757.0 1443.7,754.7 1438.8,752.2 1433.9,749.5 1428.9,746.6 1424.0,743.5 1419.1,740.3 1414.1,737.0 1409.2,733.5 1404.3,730.0 1399.4,726.4 1394.4,722.8 1389.5,719.1 1384.6,715.5 1379.7,711.9 1374.7,708.4 1369.8,704.9 1364.9,701.6 1359.9,698.3 1355.0,695.1 1350.1,692.1 1345.2,689.1 1340.2,686.3 1335.3,683.7 1330.4,681.2 1325.5,678.9 1320.5,676.8 1315.6,674.8 1310.7,673.1 1305.7,671.6 1300.8,670.3 1295.9,669.3 1291.0,668.5 1286.0,668.0 1281.1,667.7 1276.2,667.8 1271.3,668.1 1266.3,668.7 1261.4,669.7 1256.5,671.0 1251.5,672.6 1246.6,674.6 1241.7,676.9 1236.8,679.6 1231.8,682.7 1226.9,686.2 1222.0,690.2 1217.1,694.5 1212.1,699.2 1207.2,704.4 1202.3,709.9 1197.3,715.7 1192.4,721.8 1187.5,728.2 1182.6,734.9 1177.6,741.9 1172.7,749.0 1167.8,756.4 1162.8,763.9 1157.9,771.7 1153.0,779.7 1148.1,787.8 1143.1,796.1 1138.2,804.5 1133.3,813.1 1128.4,821.9 1123.4,830.7 1118.5,839.7 1113.6,848.8 1108.6,858.0 1103.7,867.3 1098.8,876.7 1093.9,886.2 1088.9,895.7 1084.0,905.3 1079.1,914.9 1074.2,924.6 Z"/>
<path class="ro" d="M1074.2,910.1 1079.1,900.7 1084.0,891.3 1088.9,881.8 1093.9,872.4 1098.8,863.0 1103.7,853.6 1108.6,844.2 1113.6,834.9 1118.5,825.6 1123.4,816.5 1128.4,807.4 1133.3,798.4 1138.2,789.5 1143.1,780.8 1148.1,772.2 1153.0,763.7 1157.9,755.4 1162.8,747.2 1167.8,739.3 1172.7,731.5 1177.6,723.9 1182.6,716.6 1187.5,709.5 1192.4,702.6 1197.3,696.1 1202.3,689.8 1207.2,683.9 1212.1,678.2 1217.1,673.0 1222.0,668.1 1226.9,663.6 1231.8,659.6 1236.8,655.8 1241.7,652.5 1246.6,649.5 1251.5,646.9 1256.5,644.6 1261.4,642.7 1266.3,641.0 1271.3,639.7 1276.2,638.8 1281.1,638.1 1286.0,637.7 1291.0,637.6 1295.9,637.8 1300.8,638.3 1305.7,639.0 1310.7,640.0 1315.6,641.2 1320.5,642.7 1325.5,644.4 1330.4,646.3 1335.3,648.5 1340.2,650.9 1345.2,653.4 1350.1,656.1 1355.0,659.0 1359.9,662.0 1364.9,665.1 1369.8,668.2 1374.7,671.3 1379.7,674.5 1384.6,677.6 1389.5,680.7 1394.4,683.7 1399.4,686.6 1404.3,689.5 1409.2,692.3 1414.1,695.1 1419.1,697.7 1424.0,700.3 1428.9,702.7 1433.9,705.1 1438.8,707.3 1443.7,709.4 1448.6,711.4 1453.6,713.2 1458.5,714.9 1463.4,716.4 1468.3,717.8 1473.3,719.0 1478.2,720.0 1483.1,720.9 1488.1,721.5 1493.0,722.0 1497.9,722.2 1502.8,722.2 1507.8,722.1 1512.7,721.7 1517.6,721.1 1522.6,720.3 1527.5,719.3 1532.4,718.2 1537.3,716.9 1542.3,715.4 1547.2,713.8 1552.1,712.0 1557.0,710.1 1562.0,708.1 1566.9,705.9 1571.8,703.6 1576.8,701.2 1581.7,698.7 1586.6,696.1 1591.5,693.3 1596.5,690.6 1601.4,687.7 1606.3,684.7 1611.2,681.7 1616.2,678.7 1621.1,675.6 1626.0,672.4 1631.0,669.2 1635.9,666.0 1640.8,662.7 1645.7,659.5 1650.7,656.2 1655.6,653.0 1660.5,649.7 L1660.5,736.8 1655.6,737.9 1650.7,739.1 1645.7,740.3 1640.8,741.6 1635.9,742.9 1631.0,744.3 1626.0,745.7 1621.1,747.1 1616.2,748.5 1611.2,750.0 1606.3,751.4 1601.4,752.8 1596.5,754.2 1591.5,755.6 1586.6,757.0 1581.7,758.4 1576.8,759.7 1571.8,761.0 1566.9,762.2 1562.0,763.4 1557.0,764.5 1552.1,765.5 1547.2,766.5 1542.3,767.4 1537.3,768.2 1532.4,768.9 1527.5,769.5 1522.6,770.0 1517.6,770.4 1512.7,770.7 1507.8,770.9 1502.8,770.9 1497.9,770.8 1493.0,770.5 1488.1,770.1 1483.1,769.6 1478.2,768.9 1473.3,768.0 1468.3,767.0 1463.4,765.8 1458.5,764.4 1453.6,762.9 1448.6,761.2 1443.7,759.3 1438.8,757.2 1433.9,754.9 1428.9,752.5 1424.0,749.9 1419.1,747.2 1414.1,744.4 1409.2,741.5 1404.3,738.6 1399.4,735.6 1394.4,732.6 1389.5,729.6 1384.6,726.6 1379.7,723.7 1374.7,720.8 1369.8,718.0 1364.9,715.3 1359.9,712.6 1355.0,710.1 1350.1,707.6 1345.2,705.3 1340.2,703.1 1335.3,701.1 1330.4,699.2 1325.5,697.4 1320.5,695.9 1315.6,694.5 1310.7,693.3 1305.7,692.3 1300.8,691.5 1295.9,690.9 1291.0,690.6 1286.0,690.4 1281.1,690.6 1276.2,691.0 1271.3,691.7 1266.3,692.6 1261.4,693.9 1256.5,695.4 1251.5,697.3 1246.6,699.4 1241.7,701.9 1236.8,704.8 1231.8,707.9 1226.9,711.5 1222.0,715.4 1217.1,719.7 1212.1,724.4 1207.2,729.4 1202.3,734.8 1197.3,740.5 1192.4,746.5 1187.5,752.8 1182.6,759.4 1177.6,766.2 1172.7,773.3 1167.8,780.6 1162.8,788.1 1157.9,795.9 1153.0,803.8 1148.1,811.9 1143.1,820.1 1138.2,828.5 1133.3,837.0 1128.4,845.6 1123.4,854.3 1118.5,863.1 1113.6,871.9 1108.6,880.7 1103.7,889.6 1098.8,898.5 1093.9,907.4 1088.9,916.3 1084.0,925.1 1079.1,933.9 1074.2,942.6 Z"/>
<path class="rx" d="M1074.2,910.1 1077.8,903.1 1081.5,896.0 1085.2,889.0 1088.9,881.9 1092.6,874.8 1096.3,867.8 1100.0,860.7 1103.7,853.7 1107.3,846.7 1111.0,839.7 1114.7,832.7 1118.4,825.8 1122.1,819.0 1125.8,812.1 1129.5,805.4 1133.2,798.6 1136.8,792.0 1140.5,785.4 1144.2,778.9 1147.9,772.4 1151.6,766.1 1155.3,759.8 1159.0,753.6 1162.7,747.5 1166.4,741.6 1170.0,735.7 1173.7,729.9 1177.4,724.3 1181.1,718.8 1184.8,713.4 1188.5,708.1 1192.2,703.0 1195.9,698.1 1199.5,693.3 1203.2,688.6 1206.9,684.2 1210.6,680.0 1214.3,675.9 1218.0,672.1 1221.7,668.4 1225.4,665.1 1229.0,661.9 1232.7,658.9 1236.4,656.1 1240.1,653.6 1243.8,651.2 1247.5,649.1 1251.2,647.1 1254.9,645.4 1258.5,643.8 1262.2,642.4 1265.9,641.2 1269.6,640.2 1273.3,639.3 1277.0,638.7 1280.7,638.1 1284.4,637.8 1288.0,637.7 1291.7,637.6 1295.4,637.8 1299.1,638.1 1302.8,638.6 1306.5,639.1 1310.2,639.9 1313.9,640.8 1317.6,641.8 1321.2,642.9 1324.9,644.2 1328.6,645.6 1332.3,647.2 1336.0,648.8 1339.7,650.6 1343.4,652.5 1347.1,654.5 1350.7,656.5 1354.4,658.7 1358.1,660.9 1361.8,663.2 1365.5,665.5 1369.2,667.8 1372.9,670.2 1376.6,672.5 1380.2,674.9 1383.9,677.2 1387.6,679.5 1391.3,681.8 1395.0,684.0 1398.7,686.2 1402.4,688.4 1406.1,690.5 1409.7,692.6 1413.4,694.7 1417.1,696.7 1420.8,698.6 1424.5,700.5 1428.2,702.4 1431.9,704.1 1435.6,705.9 1439.2,707.5 1442.9,709.1 1446.6,710.6 1450.3,712.0 1454.0,713.4 1457.7,714.6 1461.4,715.8 1465.1,716.9 1468.8,717.9 1472.4,718.8 1476.1,719.6 1479.8,720.3 1483.5,720.9 1487.2,721.4 1490.9,721.8 1494.6,722.0 1498.3,722.2 1501.9,722.2 1505.6,722.1 1509.3,721.9 1513.0,721.6 1516.7,721.3 1520.4,721.0 1524.1,720.5 1527.8,719.9 1531.4,719.3 1535.1,718.5 1538.8,717.6 1542.5,716.7 1546.2,715.6 1549.9,714.4 1553.6,713.2 1557.3,711.9 1560.9,710.5 1564.6,709.1 1568.3,707.5 1572.0,705.9 1575.7,704.3 1579.4,702.5 1583.1,700.8 1586.8,698.9 1590.5,697.0 1594.1,695.1 1597.8,693.1 1601.5,691.0 1605.2,688.9 1608.9,686.8 1612.6,684.7 1616.3,682.5 1620.0,680.3 1623.6,678.0 1627.3,675.8 1631.0,673.5 1634.7,671.2 1638.4,668.9 1642.1,666.6 1645.8,664.2 1649.5,661.9 1653.1,659.6 1656.8,657.2 1660.5,654.9 L1660.5,736.8 1656.8,737.6 1653.1,738.5 1649.5,739.4 1645.8,740.3 1642.1,741.3 1638.4,742.3 1634.7,743.3 1631.0,744.3 1627.3,745.3 1623.6,746.4 1620.0,747.4 1616.3,748.5 1612.6,749.6 1608.9,750.6 1605.2,751.7 1601.5,752.8 1597.8,753.9 1594.1,754.9 1590.5,756.0 1586.8,757.0 1583.1,757.9 1579.4,758.9 1575.7,759.8 1572.0,760.7 1568.3,761.5 1564.6,762.4 1560.9,763.2 1557.3,763.9 1553.6,764.7 1549.9,765.3 1546.2,766.0 1542.5,766.6 1538.8,767.1 1535.1,767.6 1531.4,768.0 1527.8,768.4 1524.1,768.7 1520.4,768.9 1516.7,769.1 1513.0,769.2 1509.3,769.3 1505.6,769.2 1501.9,769.1 1498.3,768.9 1494.6,768.6 1490.9,768.2 1487.2,767.8 1483.5,767.2 1479.8,766.6 1476.1,765.8 1472.4,765.0 1468.8,764.0 1465.1,763.0 1461.4,761.8 1457.7,760.6 1454.0,759.2 1450.3,757.7 1446.6,756.0 1442.9,754.3 1439.2,752.4 1435.6,750.4 1431.9,748.3 1428.2,746.1 1424.5,743.8 1420.8,741.4 1417.1,739.0 1413.4,736.5 1409.7,733.9 1406.1,731.2 1402.4,728.6 1398.7,725.9 1395.0,723.2 1391.3,720.4 1387.6,717.7 1383.9,715.0 1380.2,712.3 1376.6,709.7 1372.9,707.1 1369.2,704.5 1365.5,702.0 1361.8,699.5 1358.1,697.1 1354.4,694.8 1350.7,692.5 1347.1,690.3 1343.4,688.1 1339.7,686.0 1336.0,684.1 1332.3,682.2 1328.6,680.4 1324.9,678.7 1321.2,677.1 1317.6,675.6 1313.9,674.2 1310.2,673.0 1306.5,671.8 1302.8,670.8 1299.1,670.0 1295.4,669.2 1291.7,668.6 1288.0,668.2 1284.4,667.9 1280.7,667.7 1277.0,667.8 1273.3,668.0 1269.6,668.3 1265.9,668.8 1262.2,669.5 1258.5,670.4 1254.9,671.5 1251.2,672.7 1247.5,674.2 1243.8,675.9 1240.1,677.8 1236.4,679.9 1232.7,682.2 1229.0,684.7 1225.4,687.5 1221.7,690.4 1218.0,693.7 1214.3,697.1 1210.6,700.8 1206.9,704.7 1203.2,708.8 1199.5,713.1 1195.9,717.5 1192.2,722.1 1188.5,727.0 1184.8,731.9 1181.1,737.0 1177.4,742.2 1173.7,747.5 1170.0,753.0 1166.4,758.6 1162.7,764.2 1159.0,770.1 1155.3,776.0 1151.6,782.0 1147.9,788.0 1144.2,794.3 1140.5,800.5 1136.8,806.9 1133.2,813.3 1129.5,819.9 1125.8,826.5 1122.1,833.2 1118.4,839.9 1114.7,846.7 1111.0,853.6 1107.3,860.5 1103.7,867.5 1100.0,874.5 1096.3,881.5 1092.6,888.6 1088.9,895.8 1085.2,902.9 1081.5,910.1 1077.8,917.4 1074.2,924.6 Z"/>
<polyline class="lo" points="1074.2,926.4 1079.1,917.6 1084.0,908.7 1088.9,899.8 1093.9,890.8 1098.8,881.8 1103.7,872.8 1108.6,863.8 1113.6,854.8 1118.5,845.8 1123.4,836.9 1128.4,828.1 1133.3,819.3 1138.2,810.6 1143.1,802.1 1148.1,793.7 1153.0,785.4 1157.9,777.2 1162.8,769.3 1167.8,761.5 1172.7,754.0 1177.6,746.7 1182.6,739.6 1187.5,732.7 1192.4,726.2 1197.3,719.9 1202.3,713.9 1207.2,708.3 1212.1,702.9 1217.1,698.0 1222.0,693.4 1226.9,689.1 1231.8,685.3 1236.8,681.8 1241.7,678.6 1246.6,675.8 1251.5,673.3 1256.5,671.2 1261.4,669.3 1266.3,667.8 1271.3,666.6 1276.2,665.7 1281.1,665.0 1286.0,664.7 1291.0,664.6 1295.9,664.8 1300.8,665.3 1305.7,666.0 1310.7,666.9 1315.6,668.1 1320.5,669.5 1325.5,671.1 1330.4,673.0 1335.3,675.0 1340.2,677.2 1345.2,679.7 1350.1,682.3 1355.0,685.0 1359.9,687.8 1364.9,690.8 1369.8,693.7 1374.7,696.8 1379.7,699.8 1384.6,702.8 1389.5,705.7 1394.4,708.7 1399.4,711.5 1404.3,714.4 1409.2,717.1 1414.1,719.8 1419.1,722.5 1424.0,725.0 1428.9,727.4 1433.9,729.8 1438.8,732.0 1443.7,734.1 1448.6,736.1 1453.6,738.0 1458.5,739.7 1463.4,741.3 1468.3,742.7 1473.3,743.9 1478.2,745.0 1483.1,745.9 1488.1,746.6 1493.0,747.2 1497.9,747.5 1502.8,747.6 1507.8,747.5 1512.7,747.2 1517.6,746.8 1522.6,746.1 1527.5,745.3 1532.4,744.3 1537.3,743.2 1542.3,741.9 1547.2,740.5 1552.1,738.9 1557.0,737.3 1562.0,735.5 1566.9,733.7 1571.8,731.7 1576.8,729.7 1581.7,727.7 1586.6,725.5 1591.5,723.3 1596.5,721.1 1601.4,718.9 1606.3,716.6 1611.2,714.3 1616.2,712.0 1621.1,709.8 1626.0,707.5 1631.0,705.3 1635.9,703.1 1640.8,701.0 1645.7,698.9 1650.7,696.8 1655.6,694.9 1660.5,693.0"/>
<polyline class="lb" points="1074.2,907.6 1079.1,898.3 1084.0,889.0 1088.9,879.7 1093.9,870.3 1098.8,860.9 1103.7,851.5 1108.6,842.1 1113.6,832.7 1118.5,823.4 1123.4,814.2 1128.4,805.0 1133.3,795.9 1138.2,787.0 1143.1,778.2 1148.1,769.5 1153.0,761.0 1157.9,752.6 1162.8,744.5 1167.8,736.5 1172.7,728.9 1177.6,721.4 1182.6,714.2 1187.5,707.3 1192.4,700.7 1197.3,694.4 1202.3,688.4 1207.2,682.8 1212.1,677.5 1217.1,672.6 1222.0,668.1 1226.9,664.0 1231.8,660.3 1236.8,657.0 1241.7,654.1 1246.6,651.5 1251.5,649.3 1256.5,647.4 1261.4,645.9 1266.3,644.7 1271.3,643.8 1276.2,643.3 1281.1,643.1 1286.0,643.1 1291.0,643.5 1295.9,644.1 1300.8,645.0 1305.7,646.2 1310.7,647.6 1315.6,649.3 1320.5,651.2 1325.5,653.3 1330.4,655.7 1335.3,658.3 1340.2,661.1 1345.2,664.1 1350.1,667.2 1355.0,670.5 1359.9,673.9 1364.9,677.4 1369.8,680.9 1374.7,684.5 1379.7,688.1 1384.6,691.6 1389.5,695.1 1394.4,698.5 1399.4,701.9 1404.3,705.3 1409.2,708.5 1414.1,711.7 1419.1,714.8 1424.0,717.8 1428.9,720.7 1433.9,723.5 1438.8,726.2 1443.7,728.7 1448.6,731.1 1453.6,733.4 1458.5,735.5 1463.4,737.4 1468.3,739.2 1473.3,740.8 1478.2,742.3 1483.1,743.5 1488.1,744.6 1493.0,745.4 1497.9,746.0 1502.8,746.4 1507.8,746.6 1512.7,746.6 1517.6,746.4 1522.6,746.0 1527.5,745.4 1532.4,744.6 1537.3,743.7 1542.3,742.6 1547.2,741.4 1552.1,740.0 1557.0,738.6 1562.0,737.0 1566.9,735.3 1571.8,733.5 1576.8,731.7 1581.7,729.7 1586.6,727.7 1591.5,725.7 1596.5,723.6 1601.4,721.4 1606.3,719.3 1611.2,717.1 1616.2,714.9 1621.1,712.8 1626.0,710.6 1631.0,708.5 1635.9,706.4 1640.8,704.3 1645.7,702.3 1650.7,700.3 1655.6,698.5 1660.5,696.7"/>
<path class="axv" d="M1028.7,599.4 V960.0"/>
<path class="ax" d="M1027.95,960.0 H1710.6"/>
<path class="tk" d="M1059.40,960.70 v1.6"/>
<text class="tl" x="1059.40" y="981.3" text-anchor="middle">0</text>
<path class="tk" d="M1118.42,960.70 v1.6"/>
<text class="tl" x="1118.42" y="981.3" text-anchor="middle">2</text>
<path class="tk" d="M1177.44,960.70 v1.6"/>
<text class="tl" x="1177.44" y="981.3" text-anchor="middle">4</text>
<path class="tk" d="M1236.46,960.70 v1.6"/>
<text class="tl" x="1236.46" y="981.3" text-anchor="middle">6</text>
<path class="tk" d="M1295.48,960.70 v1.6"/>
<text class="tl" x="1295.48" y="981.3" text-anchor="middle">8</text>
<path class="tk" d="M1354.50,960.70 v1.6"/>
<text class="tl" x="1354.50" y="981.3" text-anchor="middle">10</text>
<path class="tk" d="M1413.52,960.70 v1.6"/>
<text class="tl" x="1413.52" y="981.3" text-anchor="middle">12</text>
<path class="tk" d="M1472.54,960.70 v1.6"/>
<text class="tl" x="1472.54" y="981.3" text-anchor="middle">14</text>
<path class="tk" d="M1531.56,960.70 v1.6"/>
<text class="tl" x="1531.56" y="981.3" text-anchor="middle">16</text>
<path class="tk" d="M1590.58,960.70 v1.6"/>
<text class="tl" x="1590.58" y="981.3" text-anchor="middle">18</text>
<path class="tk" d="M1649.60,960.70 v1.6"/>
<text class="tl" x="1649.60" y="981.3" text-anchor="middle">20</text>
<path class="tk" d="M1028.00,925.90 h-1.6"/>
<text class="tl" x="1025.10" y="935.00" text-anchor="end">0.02</text>
<path class="tk" d="M1028.00,861.45 h-1.6"/>
<text class="tl" x="1025.10" y="870.55" text-anchor="end">0.03</text>
<path class="tk" d="M1028.00,797.00 h-1.6"/>
<text class="tl" x="1025.10" y="806.10" text-anchor="end">0.04</text>
<path class="tk" d="M1028.00,732.55 h-1.6"/>
<text class="tl" x="1025.10" y="741.65" text-anchor="end">0.05</text>
<path class="tk" d="M1028.00,668.10 h-1.6"/>
<text class="tl" x="1025.10" y="677.20" text-anchor="end">0.06</text>
<path class="tk" d="M1028.00,603.65 h-1.6"/>
<text class="tl" x="1025.10" y="612.75" text-anchor="end">0.07</text>
<text class="at" x="1369.7" y="1005.9" text-anchor="middle">Age (months)</text>
<text class="at" transform="translate(969.8,779.7) rotate(-90)" text-anchor="middle">Relative Gamma (µV²)</text>
<text class="pl" transform="translate(957.1,549.6) scale(1.0,1)" style="font-size:43.6px">d</text>
<rect x="1115.2" y="562.2" width="28" height="27.6" fill="#dce5f2"/>
<path d="M1118.2,576.0 h23" stroke="#0a6db6" stroke-width="2.7"/>
<text class="lg" x="1145.9" y="585.1">Higher Prenatal ITN</text>
<rect x="1376.1" y="562.2" width="28" height="27.6" fill="#fde6da"/>
<path d="M1378.6,576.0 h23" stroke="#d8600e" stroke-width="2.7"/>
<text class="lg" x="1406.7" y="585.1">Lower Prenatal ITN</text>
</svg>
<div class="cap" style="top:1046.9px"><b>Fig. 3.</b></div>
<div class="cap" style="top:1046.9px;left:115.8px;width:auto;word-spacing:0.589px">Associations between prenatal family income-to-needs (ITN) and age-related patterns of relative theta, alpha, beta and gamma power in infants. <i>Note.</i> Plots</div>
<div class="cap" style="top:1080.7px;word-spacing:-0.169px">display GAMM-predicted age-related patterns of relative power for infants from families with lower prenatal family ITN ratios (red) and higher prenatal family ITN</div>
<div class="cap" style="top:1114.5px;word-spacing:1.528px">ratios (blue). Family ITN was modeled continuously, but for visualization purposes, model-predicted values are shown using a median split of ITN. Shaded areas</div>
<div class="cap" style="top:1148.3px;word-spacing:1px">represent 95 % confidence intervals.</div>
</body></html>
